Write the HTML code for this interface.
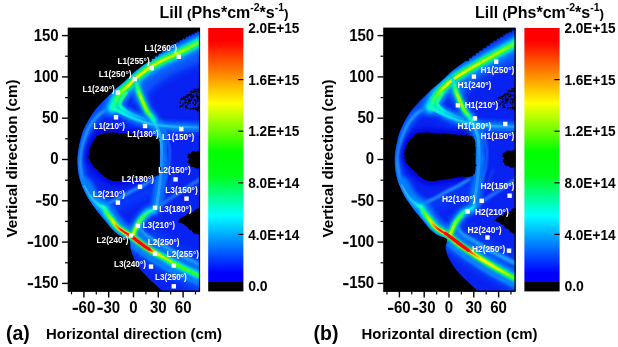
<!DOCTYPE html>
<html><head><meta charset="utf-8"><style>
html,body{margin:0;padding:0;background:#fff;}
body{width:618px;height:347px;overflow:hidden;}
svg{display:block;font-family:"Liberation Sans",sans-serif;filter:blur(0.35px);}
.tk{font-size:15.8px;font-weight:700;fill:#000;}
.ax{font-size:14.5px;font-weight:700;fill:#000;}
.ti{font-size:16px;font-weight:700;fill:#000;}
.cbt{font-size:14px;font-weight:700;fill:#000;}
.ml{font-size:8.2px;font-weight:700;fill:#fff;}
.pl{font-size:19.5px;font-weight:700;fill:#000;}
</style></head><body>
<svg width="618" height="347" viewBox="0 0 618 347">
<defs>
<linearGradient id="cb" x1="0" y1="0" x2="0" y2="1">
<stop offset="0" stop-color="#ff0000"/>
<stop offset="0.05" stop-color="#ff0000"/>
<stop offset="0.285" stop-color="#ffff00"/>
<stop offset="0.47" stop-color="#00ff00"/>
<stop offset="0.56" stop-color="#00ff18"/>
<stop offset="0.713" stop-color="#00ffff"/>
<stop offset="0.93" stop-color="#0000ff"/>
<stop offset="0.966" stop-color="#0000ff"/>
<stop offset="0.966" stop-color="#000000"/>
<stop offset="1" stop-color="#000000"/>
</linearGradient>
<filter id="b0" x="-20%" y="-20%" width="140%" height="140%"><feGaussianBlur stdDeviation="0.45"/></filter>
<filter id="b1" x="-20%" y="-20%" width="140%" height="140%"><feGaussianBlur stdDeviation="0.9"/></filter>
<filter id="b2" x="-20%" y="-20%" width="140%" height="140%"><feGaussianBlur stdDeviation="2"/></filter>
<filter id="b4" x="-30%" y="-30%" width="160%" height="160%"><feGaussianBlur stdDeviation="4"/></filter>
<pattern id="speck" width="3" height="3" patternUnits="userSpaceOnUse"><rect x="0" y="0" width="1.6" height="1.6" fill="#000"/><rect x="1.6" y="1.6" width="1" height="1" fill="#000" opacity="0.6"/></pattern>
<filter id="rough" x="-5%" y="-5%" width="110%" height="110%"><feTurbulence type="fractalNoise" baseFrequency="0.45" numOctaves="2" seed="4" result="n"/><feDisplacementMap in="SourceGraphic" in2="n" scale="2.4" xChannelSelector="R" yChannelSelector="G"/></filter>

<linearGradient id="gL1ha" gradientUnits="userSpaceOnUse" x1="203" y1="40.5" x2="112.7" y2="107.7"><stop offset="0" stop-color="#00ffa0"/><stop offset="0.2" stop-color="#20ff40"/><stop offset="0.85" stop-color="#20ff20"/><stop offset="0.95" stop-color="#00ff90"/><stop offset="1" stop-color="#00f0e0"/></linearGradient>
<linearGradient id="gL1a" gradientUnits="userSpaceOnUse" x1="203" y1="40.5" x2="112.7" y2="107.7"><stop offset="0" stop-color="#40ff40"/><stop offset="0.2" stop-color="#a0ff00"/><stop offset="0.45" stop-color="#d0ff00"/><stop offset="0.78" stop-color="#f0ff00"/><stop offset="0.88" stop-color="#60ff20"/><stop offset="1" stop-color="#00ffc0"/></linearGradient>
<linearGradient id="gAha" gradientUnits="userSpaceOnUse" x1="112.7" y1="107.7" x2="201" y2="127.5"><stop offset="0" stop-color="#00ffc0"/><stop offset="0.12" stop-color="#00d8ff"/><stop offset="0.35" stop-color="#00a8ff" stop-opacity="0.8"/><stop offset="1" stop-color="#0090ff" stop-opacity="0.3"/></linearGradient>
<linearGradient id="gAa" gradientUnits="userSpaceOnUse" x1="112.7" y1="107.7" x2="201" y2="127.5"><stop offset="0" stop-color="#20ffa0"/><stop offset="0.15" stop-color="#00f0e0"/><stop offset="0.4" stop-color="#20c0ff"/><stop offset="1" stop-color="#2890ff"/></linearGradient>
<linearGradient id="gA2ha" gradientUnits="userSpaceOnUse" x1="125.4" y1="92.7" x2="146" y2="119.5"><stop offset="0" stop-color="#00ff80"/><stop offset="0.3" stop-color="#00f0d0"/><stop offset="0.6" stop-color="#00b0ff" stop-opacity="0.8"/><stop offset="1" stop-color="#0090ff" stop-opacity="0.2"/></linearGradient>
<linearGradient id="gA2a" gradientUnits="userSpaceOnUse" x1="125.4" y1="92.7" x2="146" y2="119.5"><stop offset="0" stop-color="#40ff60"/><stop offset="0.3" stop-color="#00ffd0"/><stop offset="0.6" stop-color="#10c8ff"/><stop offset="1" stop-color="#1890ff"/></linearGradient>
<linearGradient id="gBha" gradientUnits="userSpaceOnUse" x1="135.5" y1="80" x2="161.5" y2="160"><stop offset="0" stop-color="#00b0ff"/><stop offset="0.12" stop-color="#00ff80"/><stop offset="0.4" stop-color="#00ff60"/><stop offset="0.52" stop-color="#00d0ff"/><stop offset="0.65" stop-color="#0080ff" stop-opacity="0.5"/><stop offset="1" stop-color="#0080ff" stop-opacity="0"/></linearGradient>
<linearGradient id="gBa" gradientUnits="userSpaceOnUse" x1="135.5" y1="80" x2="161.5" y2="160"><stop offset="0" stop-color="#00e0ff"/><stop offset="0.1" stop-color="#20ff60"/><stop offset="0.22" stop-color="#b0ff00"/><stop offset="0.38" stop-color="#80ff00"/><stop offset="0.5" stop-color="#00ffb0"/><stop offset="0.62" stop-color="#20b8ff"/><stop offset="1" stop-color="#2888ff"/></linearGradient>
<linearGradient id="gL3ha" gradientUnits="userSpaceOnUse" x1="161.5" y1="160" x2="132.3" y2="236.7"><stop offset="0" stop-color="#0080ff" stop-opacity="0"/><stop offset="0.5" stop-color="#0080ff" stop-opacity="0.4"/><stop offset="0.62" stop-color="#00c8ff"/><stop offset="0.75" stop-color="#00ff90"/><stop offset="1" stop-color="#20ff30"/></linearGradient>
<linearGradient id="gL3a" gradientUnits="userSpaceOnUse" x1="161.5" y1="160" x2="132.3" y2="236.7"><stop offset="0" stop-color="#2888ff"/><stop offset="0.5" stop-color="#28a0ff"/><stop offset="0.6" stop-color="#00f0e0"/><stop offset="0.72" stop-color="#30ff50"/><stop offset="0.88" stop-color="#a0ff00"/><stop offset="1" stop-color="#f0ff00"/></linearGradient>
<linearGradient id="gL2wa" gradientUnits="userSpaceOnUse" x1="84.5" y1="186" x2="204" y2="278"><stop offset="0" stop-color="#0080ff" stop-opacity="0"/><stop offset="0.1272" stop-color="#00a0ff" stop-opacity="0.6"/><stop offset="0.2048" stop-color="#00e0ff"/><stop offset="0.2933" stop-color="#00ff80"/><stop offset="0.603" stop-color="#20ff40"/><stop offset="0.7142" stop-color="#00ffa0"/><stop offset="1" stop-color="#00e0ff"/></linearGradient>
<linearGradient id="gL2ha" gradientUnits="userSpaceOnUse" x1="84.5" y1="186" x2="204" y2="278"><stop offset="0" stop-color="#0080ff" stop-opacity="0"/><stop offset="0.1272" stop-color="#00c0ff" stop-opacity="0.6"/><stop offset="0.1868" stop-color="#00ffc0"/><stop offset="0.2408" stop-color="#20ff40"/><stop offset="0.314" stop-color="#a0ff00"/><stop offset="0.3677" stop-color="#ffd800"/><stop offset="0.5937" stop-color="#ffc800"/><stop offset="0.6402" stop-color="#c0ff00"/><stop offset="0.6996" stop-color="#30ff20"/><stop offset="1" stop-color="#00ff60"/></linearGradient>
<linearGradient id="gL2a" gradientUnits="userSpaceOnUse" x1="84.5" y1="186" x2="204" y2="278"><stop offset="0" stop-color="#30a0ff"/><stop offset="0.1272" stop-color="#20c0ff"/><stop offset="0.1868" stop-color="#20ffc0"/><stop offset="0.2259" stop-color="#40ff30"/><stop offset="0.2614" stop-color="#a0ff00"/><stop offset="0.298" stop-color="#f8f000"/><stop offset="0.3372" stop-color="#ff8000"/><stop offset="0.3724" stop-color="#ff1000"/><stop offset="0.5937" stop-color="#ff0000"/><stop offset="0.6295" stop-color="#ff8000"/><stop offset="0.6705" stop-color="#fff000"/><stop offset="0.738" stop-color="#b0ff00"/><stop offset="0.8201" stop-color="#50ff10"/><stop offset="1" stop-color="#20ff40"/></linearGradient>
<linearGradient id="gL1hb" gradientUnits="userSpaceOnUse" x1="519" y1="41.4" x2="430.5" y2="107"><stop offset="0" stop-color="#00ffa0"/><stop offset="0.2" stop-color="#20ff40"/><stop offset="0.85" stop-color="#20ff20"/><stop offset="0.95" stop-color="#00ff90"/><stop offset="1" stop-color="#00f0e0"/></linearGradient>
<linearGradient id="gL1b" gradientUnits="userSpaceOnUse" x1="519" y1="41.4" x2="430.5" y2="107"><stop offset="0" stop-color="#40ff40"/><stop offset="0.2" stop-color="#a0ff00"/><stop offset="0.45" stop-color="#d0ff00"/><stop offset="0.78" stop-color="#f0ff00"/><stop offset="0.88" stop-color="#60ff20"/><stop offset="1" stop-color="#00ffc0"/></linearGradient>
<linearGradient id="gAhb" gradientUnits="userSpaceOnUse" x1="430.0" y1="107.0" x2="518.3" y2="126.8"><stop offset="0" stop-color="#00ffc0"/><stop offset="0.12" stop-color="#00d8ff"/><stop offset="0.35" stop-color="#00a8ff" stop-opacity="0.8"/><stop offset="1" stop-color="#0090ff" stop-opacity="0.3"/></linearGradient>
<linearGradient id="gAb" gradientUnits="userSpaceOnUse" x1="430.0" y1="107.0" x2="518.3" y2="126.8"><stop offset="0" stop-color="#20ffa0"/><stop offset="0.15" stop-color="#00f0e0"/><stop offset="0.4" stop-color="#20c0ff"/><stop offset="1" stop-color="#2890ff"/></linearGradient>
<linearGradient id="gA2hb" gradientUnits="userSpaceOnUse" x1="442.70000000000005" y1="92.0" x2="463.3" y2="118.8"><stop offset="0" stop-color="#00ff80"/><stop offset="0.3" stop-color="#00f0d0"/><stop offset="0.6" stop-color="#00b0ff" stop-opacity="0.8"/><stop offset="1" stop-color="#0090ff" stop-opacity="0.2"/></linearGradient>
<linearGradient id="gA2b" gradientUnits="userSpaceOnUse" x1="442.70000000000005" y1="92.0" x2="463.3" y2="118.8"><stop offset="0" stop-color="#40ff60"/><stop offset="0.3" stop-color="#00ffd0"/><stop offset="0.6" stop-color="#10c8ff"/><stop offset="1" stop-color="#1890ff"/></linearGradient>
<linearGradient id="gBhb" gradientUnits="userSpaceOnUse" x1="452.8" y1="79.3" x2="478.8" y2="159.3"><stop offset="0" stop-color="#00b0ff"/><stop offset="0.12" stop-color="#00ff80"/><stop offset="0.4" stop-color="#00ff60"/><stop offset="0.52" stop-color="#00d0ff"/><stop offset="0.65" stop-color="#0080ff" stop-opacity="0.5"/><stop offset="1" stop-color="#0080ff" stop-opacity="0"/></linearGradient>
<linearGradient id="gBb" gradientUnits="userSpaceOnUse" x1="452.8" y1="79.3" x2="478.8" y2="159.3"><stop offset="0" stop-color="#00e0ff"/><stop offset="0.1" stop-color="#20ff60"/><stop offset="0.22" stop-color="#b0ff00"/><stop offset="0.38" stop-color="#80ff00"/><stop offset="0.5" stop-color="#00ffb0"/><stop offset="0.62" stop-color="#20b8ff"/><stop offset="1" stop-color="#2888ff"/></linearGradient>
<linearGradient id="gL3hb" gradientUnits="userSpaceOnUse" x1="478.8" y1="159.3" x2="449.6" y2="236.0"><stop offset="0" stop-color="#0080ff" stop-opacity="0"/><stop offset="0.5" stop-color="#0080ff" stop-opacity="0.4"/><stop offset="0.62" stop-color="#00c8ff"/><stop offset="0.75" stop-color="#00ff90"/><stop offset="1" stop-color="#20ff30"/></linearGradient>
<linearGradient id="gL3b" gradientUnits="userSpaceOnUse" x1="478.8" y1="159.3" x2="449.6" y2="236.0"><stop offset="0" stop-color="#2888ff"/><stop offset="0.5" stop-color="#28a0ff"/><stop offset="0.6" stop-color="#00f0e0"/><stop offset="0.72" stop-color="#30ff50"/><stop offset="0.88" stop-color="#a0ff00"/><stop offset="1" stop-color="#f0ff00"/></linearGradient>
<linearGradient id="gL2wb" gradientUnits="userSpaceOnUse" x1="401.8" y1="185.3" x2="520" y2="281.2"><stop offset="0" stop-color="#0080ff" stop-opacity="0"/><stop offset="0.127" stop-color="#00a0ff" stop-opacity="0.6"/><stop offset="0.2039" stop-color="#00e0ff"/><stop offset="0.2923" stop-color="#00ff80"/><stop offset="0.6999" stop-color="#20ff40"/><stop offset="0.8516" stop-color="#00ff80"/><stop offset="1" stop-color="#00f0c0"/></linearGradient>
<linearGradient id="gL2hb" gradientUnits="userSpaceOnUse" x1="401.8" y1="185.3" x2="520" y2="281.2"><stop offset="0" stop-color="#0080ff" stop-opacity="0"/><stop offset="0.127" stop-color="#00c0ff" stop-opacity="0.6"/><stop offset="0.1859" stop-color="#00ffc0"/><stop offset="0.2399" stop-color="#20ff40"/><stop offset="0.3129" stop-color="#a0ff00"/><stop offset="0.3663" stop-color="#ffd800"/><stop offset="0.5984" stop-color="#ffc800"/><stop offset="0.6691" stop-color="#d0ff00"/><stop offset="0.8149" stop-color="#60ff10"/><stop offset="1" stop-color="#00ff40"/></linearGradient>
<linearGradient id="gL2b" gradientUnits="userSpaceOnUse" x1="401.8" y1="185.3" x2="520" y2="281.2"><stop offset="0" stop-color="#30a0ff"/><stop offset="0.127" stop-color="#20c0ff"/><stop offset="0.1859" stop-color="#20ffc0"/><stop offset="0.225" stop-color="#40ff30"/><stop offset="0.2605" stop-color="#a0ff00"/><stop offset="0.297" stop-color="#f8f000"/><stop offset="0.336" stop-color="#ff8000"/><stop offset="0.3709" stop-color="#ff1000"/><stop offset="0.5984" stop-color="#ff0000"/><stop offset="0.654" stop-color="#ff8000"/><stop offset="0.7083" stop-color="#fff000"/><stop offset="0.8524" stop-color="#e0ff00"/><stop offset="0.9262" stop-color="#80ff00"/><stop offset="1" stop-color="#40ff20"/></linearGradient>
</defs>
<rect width="618" height="347" fill="#fff"/>
<!-- panel a -->
<g>
<clipPath id="clipa"><rect x="68" y="27.6" width="132" height="264"/></clipPath>
<rect x="67.7" y="27.6" width="132.3" height="264" fill="#000"/>
<g clip-path="url(#clipa)">
<clipPath id="rega"><path d="M201.0,29.5C199.3,30.3 194.3,32.6 190.6,34.5C186.8,36.4 182.9,38.4 178.5,41.0C174.1,43.6 169.1,46.8 164.4,50.0C159.7,53.2 155.0,56.7 150.3,60.2C145.6,63.7 140.5,67.2 136.2,70.8C131.9,74.4 128.0,78.6 124.4,81.8C120.8,85.0 117.6,87.3 114.7,90.0C111.8,92.7 109.5,95.2 106.9,97.8C104.3,100.4 101.5,102.9 99.1,105.6C96.6,108.3 94.3,111.0 92.2,114.2C90.1,117.4 87.9,121.1 86.2,124.6C84.5,128.1 83.0,131.1 81.8,135.0C80.6,138.9 79.5,144.0 78.8,148.0C78.1,152.0 77.6,155.0 77.5,159.0C77.4,163.0 77.8,168.3 78.3,172.0C78.8,175.7 79.7,178.4 80.5,181.0C81.3,183.6 82.0,185.4 83.0,187.7C84.0,190.0 85.2,192.6 86.5,195.0C87.8,197.4 88.8,199.0 90.8,202.0C92.8,205.0 96.1,209.6 98.8,213.0C101.5,216.4 104.3,219.7 106.7,222.5C109.1,225.3 110.6,227.8 113.0,230.0C115.4,232.2 118.2,234.4 121.0,236.0C123.8,237.6 128.0,237.5 129.7,239.8C131.4,242.1 129.9,246.1 131.0,250.0C132.1,253.9 134.0,259.1 136.2,263.0C138.4,266.9 140.9,270.0 144.0,273.5C147.1,277.0 151.3,280.9 154.6,284.0C157.8,287.1 162.0,290.7 163.5,292.0L205,296L205,23Z"/></clipPath>
<path d="M201.0,29.5C199.3,30.3 194.3,32.6 190.6,34.5C186.8,36.4 182.9,38.4 178.5,41.0C174.1,43.6 169.1,46.8 164.4,50.0C159.7,53.2 155.0,56.7 150.3,60.2C145.6,63.7 140.5,67.2 136.2,70.8C131.9,74.4 128.0,78.6 124.4,81.8C120.8,85.0 117.6,87.3 114.7,90.0C111.8,92.7 109.5,95.2 106.9,97.8C104.3,100.4 101.5,102.9 99.1,105.6C96.6,108.3 94.3,111.0 92.2,114.2C90.1,117.4 87.9,121.1 86.2,124.6C84.5,128.1 83.0,131.1 81.8,135.0C80.6,138.9 79.5,144.0 78.8,148.0C78.1,152.0 77.6,155.0 77.5,159.0C77.4,163.0 77.8,168.3 78.3,172.0C78.8,175.7 79.7,178.4 80.5,181.0C81.3,183.6 82.0,185.4 83.0,187.7C84.0,190.0 85.2,192.6 86.5,195.0C87.8,197.4 88.8,199.0 90.8,202.0C92.8,205.0 96.1,209.6 98.8,213.0C101.5,216.4 104.3,219.7 106.7,222.5C109.1,225.3 110.6,227.8 113.0,230.0C115.4,232.2 118.2,234.4 121.0,236.0C123.8,237.6 128.0,237.5 129.7,239.8C131.4,242.1 129.9,246.1 131.0,250.0C132.1,253.9 134.0,259.1 136.2,263.0C138.4,266.9 140.9,270.0 144.0,273.5C147.1,277.0 151.3,280.9 154.6,284.0C157.8,287.1 162.0,290.7 163.5,292.0L205,296L205,23Z" fill="#0822f2"/>
<g clip-path="url(#rega)">
<path d="M202.0,55.0C197.5,56.8 183.3,61.8 175.0,66.0C166.7,70.2 158.2,75.0 152.0,80.0C145.8,85.0 140.3,93.3 138.0,96.0" fill="none" stroke="#0868ff" stroke-width="13" stroke-linecap="round" stroke-linejoin="round" opacity="0.85" filter="url(#b4)"/>
<path d="M125.0,120.0C129.2,121.2 137.5,125.0 150.0,127.0C162.5,129.0 191.7,131.2 200.0,132.0" fill="none" stroke="#0048ff" stroke-width="8" stroke-linecap="round" stroke-linejoin="round" opacity="0.6" filter="url(#b4)"/>
<path d="M110.0,208.0C113.3,206.7 123.3,203.0 130.0,200.0C136.7,197.0 146.7,191.7 150.0,190.0" fill="none" stroke="#0050ff" stroke-width="10" stroke-linecap="round" stroke-linejoin="round" opacity="0.6" filter="url(#b4)"/>
<path d="M150.0,232.0C153.3,234.3 161.7,241.0 170.0,246.0C178.3,251.0 195.0,259.3 200.0,262.0" fill="none" stroke="#0058ff" stroke-width="10" stroke-linecap="round" stroke-linejoin="round" opacity="0.6" filter="url(#b4)"/>
<path d="M138.0,250.0C141.3,252.2 150.7,258.5 158.0,263.0C165.3,267.5 174.7,272.8 182.0,277.0C189.3,281.2 198.7,286.2 202.0,288.0" fill="none" stroke="#0060ff" stroke-width="11" stroke-linecap="round" stroke-linejoin="round" opacity="0.8" filter="url(#b4)"/>
<path d="M136.2,70.8C134.2,72.6 128.0,78.6 124.4,81.8C120.8,85.0 117.6,87.3 114.7,90.0C111.8,92.7 109.5,95.2 106.9,97.8C104.3,100.4 101.5,102.9 99.1,105.6C96.6,108.3 94.3,111.0 92.2,114.2C90.1,117.4 87.9,121.1 86.2,124.6C84.5,128.1 83.0,131.1 81.8,135.0C80.6,138.9 79.5,144.0 78.8,148.0C78.1,152.0 77.6,155.0 77.5,159.0C77.4,163.0 77.8,168.3 78.3,172.0C78.8,175.7 79.7,178.4 80.5,181.0C81.3,183.6 82.0,185.4 83.0,187.7C84.0,190.0 85.2,192.6 86.5,195.0C87.8,197.4 88.8,199.0 90.8,202.0C92.8,205.0 96.1,209.6 98.8,213.0C101.5,216.4 104.3,219.7 106.7,222.5C109.1,225.3 110.6,227.8 113.0,230.0C115.4,232.2 118.2,234.4 121.0,236.0C123.8,237.6 128.0,237.5 129.7,239.8C131.4,242.1 130.8,248.3 131.0,250.0" fill="none" stroke="#0048ff" stroke-width="8" stroke-linecap="round" stroke-linejoin="round" opacity="0.8" filter="url(#b2)"/>
<path d="M112.7,107.7C111.7,108.0 108.5,108.9 106.5,109.8C104.5,110.7 103.0,111.3 100.9,113.0C98.8,114.7 96.2,117.2 94.0,120.0C91.8,122.8 89.6,126.3 87.9,130.0C86.2,133.7 84.8,137.8 83.6,142.0C82.4,146.2 81.3,151.2 80.8,155.0C80.2,158.8 80.1,161.5 80.3,165.0C80.5,168.5 81.1,172.5 81.8,176.0C82.5,179.5 83.0,182.5 84.5,186.0C86.0,189.5 88.4,193.8 90.8,197.0C93.2,200.2 96.7,203.2 98.8,205.0C100.9,206.8 102.7,207.1 103.5,207.5" fill="none" stroke="#0060ff" stroke-width="9" stroke-linecap="round" stroke-linejoin="round" opacity="0.9" filter="url(#b2)"/>
<path d="M112.7,107.7C111.7,108.0 108.5,108.9 106.5,109.8C104.5,110.7 103.0,111.3 100.9,113.0C98.8,114.7 96.2,117.2 94.0,120.0C91.8,122.8 89.6,126.3 87.9,130.0C86.2,133.7 84.8,137.8 83.6,142.0C82.4,146.2 81.3,151.2 80.8,155.0C80.2,158.8 80.1,161.5 80.3,165.0C80.5,168.5 81.1,172.5 81.8,176.0C82.5,179.5 83.0,182.5 84.5,186.0C86.0,189.5 88.4,193.8 90.8,197.0C93.2,200.2 96.7,203.2 98.8,205.0C100.9,206.8 102.7,207.1 103.5,207.5" fill="none" stroke="#30a0ff" stroke-width="2.6" stroke-linecap="round" stroke-linejoin="round" opacity="0.95" filter="url(#b1)"/>
<path d="M88.6,157.0C88.5,155.3 88.9,151.8 89.3,150.0C89.7,148.2 89.8,147.9 90.7,146.0C91.7,144.1 93.4,140.4 95.0,138.4C96.6,136.4 98.3,135.2 100.5,134.2C102.7,133.2 104.4,132.7 108.0,132.5C111.6,132.3 116.8,132.9 122.0,133.2C127.2,133.5 134.0,134.0 139.4,134.5C144.8,135.0 151.4,135.3 154.6,136.0C157.8,136.7 157.6,136.8 158.5,138.5C159.4,140.2 159.8,141.9 160.0,146.0C160.2,150.1 160.1,158.8 160.0,163.3C159.9,167.8 159.9,170.9 159.3,173.0C158.7,175.1 158.4,175.3 156.5,176.0C154.6,176.7 150.8,176.9 148.0,177.2C145.2,177.5 142.4,177.6 139.4,178.0C136.4,178.4 132.9,179.0 130.0,179.4C127.1,179.8 124.6,180.3 122.0,180.6C119.4,180.9 117.0,181.6 114.5,181.2C112.0,180.8 109.3,179.8 107.0,178.4C104.7,177.0 102.8,175.2 100.5,173.0C98.2,170.8 94.8,167.7 93.0,165.5C91.2,163.3 90.3,161.4 89.6,160.0C88.9,158.6 88.6,158.7 88.6,157.0Z" fill="none" stroke="#0000d8" stroke-width="9" stroke-linecap="round" stroke-linejoin="round" opacity="0.75" filter="url(#b2)"/>
<path d="M103.5,207.5C104.3,206.8 106.0,204.9 108.3,203.5C110.6,202.1 113.9,200.9 117.5,199.0C121.1,197.1 126.2,194.0 130.0,192.0C133.8,190.0 136.3,189.0 140.0,187.0C143.7,185.0 150.0,181.2 152.0,180.0" fill="none" stroke="#2898ff" stroke-width="3.2" stroke-linecap="round" stroke-linejoin="round" opacity="0.9" filter="url(#b1)"/>
<path d="M111.5,212.0C112.3,213.5 114.5,218.5 116.2,221.0C118.0,223.5 121.0,226.0 122.0,227.0" fill="none" stroke="#10d0ff" stroke-width="1.8" stroke-linecap="round" stroke-linejoin="round" opacity="0.9" filter="url(#b1)"/>
<path d="M138.0,224.0C139.0,225.7 140.8,231.0 144.0,234.0C147.2,237.0 151.7,238.8 157.0,242.0C162.3,245.2 168.3,249.1 175.6,253.0C182.9,256.9 196.8,263.4 201.0,265.5" fill="none" stroke="#20a0ff" stroke-width="4.5" stroke-linecap="round" stroke-linejoin="round" opacity="1" filter="url(#b1)"/>
<path d="M133.0,246.0C135.8,248.0 143.5,253.8 150.0,258.0C156.5,262.2 163.5,266.7 172.0,271.0C180.5,275.3 196.2,281.8 201.0,284.0" fill="none" stroke="#1888ff" stroke-width="4.5" stroke-linecap="round" stroke-linejoin="round" opacity="0.85" filter="url(#b1)"/>
<path d="M176.0,170.0C175.0,172.5 172.2,180.3 170.0,185.0C167.8,189.7 165.3,194.2 163.0,198.0C160.7,201.8 157.2,206.2 156.0,207.9" fill="none" stroke="#30a0ff" stroke-width="2.0" stroke-linecap="round" stroke-linejoin="round" opacity="0.25" filter="url(#b1)"/>
<path d="M201.0,178.5C198.3,180.2 190.5,185.4 185.0,189.0C179.5,192.6 172.8,196.8 168.0,200.0C163.2,203.2 158.0,206.6 156.0,207.9" fill="none" stroke="#2478ff" stroke-width="4" stroke-linecap="round" stroke-linejoin="round" opacity="0.85" filter="url(#b1)"/>
<path d="M160.0,136.0C162.5,135.3 168.2,132.8 175.0,132.0C181.8,131.2 196.7,131.2 201.0,131.0" fill="none" stroke="#2080ff" stroke-width="1.6" stroke-linecap="round" stroke-linejoin="round" opacity="0.5" filter="url(#b1)"/>
<path d="M161.0,122.0C161.8,124.0 164.6,129.3 166.0,134.0C167.4,138.7 169.1,144.3 169.5,150.0C169.9,155.7 169.6,162.0 168.5,168.0C167.4,174.0 163.9,183.0 163.0,186.0" fill="none" stroke="#2488ff" stroke-width="2.2" stroke-linecap="round" stroke-linejoin="round" opacity="0.75" filter="url(#b1)"/>
<path d="M203.0,40.5C202.5,40.8 204.0,40.0 200.0,42.0C196.0,44.0 186.8,48.8 178.8,52.8C170.8,56.8 159.1,61.8 151.8,66.2C144.5,70.6 138.8,76.0 134.9,79.2C131.0,82.4 130.7,83.5 128.5,85.5C126.3,87.5 123.8,89.0 122.0,91.0C120.2,93.0 118.7,95.3 117.4,97.4C116.1,99.5 115.1,102.1 114.3,103.8C113.5,105.5 113.0,107.0 112.7,107.7" fill="none" stroke="#0080ff" stroke-width="18" stroke-linecap="round" stroke-linejoin="round" opacity="0.95" filter="url(#b2)"/>
<path d="M112.7,107.7C114.0,108.4 117.4,110.1 120.6,111.7C123.8,113.3 127.7,115.5 131.7,117.2C135.7,118.9 140.7,120.8 144.4,122.0C148.1,123.2 149.6,123.7 153.9,124.4C158.2,125.2 162.2,126.0 170.0,126.5C177.8,127.0 195.8,127.3 201.0,127.5" fill="none" stroke="#0080ff" stroke-width="9" stroke-linecap="round" stroke-linejoin="round" opacity="0.95" filter="url(#b2)"/>
<path d="M125.4,92.7C124.6,94.0 121.5,98.5 120.6,100.6C119.7,102.7 119.0,103.7 119.8,105.4C120.6,107.1 122.9,109.3 125.4,111.0C127.9,112.7 131.5,114.3 134.9,115.7C138.3,117.1 144.2,118.9 146.0,119.5" fill="none" stroke="#0080ff" stroke-width="8" stroke-linecap="round" stroke-linejoin="round" opacity="0.95" filter="url(#b2)"/>
<path d="M135.5,80.0C135.8,81.0 136.5,83.9 137.2,86.3C137.9,88.7 138.5,91.4 139.6,94.3C140.7,97.2 142.3,100.9 143.6,103.8C144.9,106.7 146.1,109.3 147.5,111.7C148.9,114.1 150.7,115.4 152.3,118.0C153.9,120.6 155.6,124.3 157.0,127.5C158.4,130.7 159.8,133.2 160.5,137.0C161.2,140.8 161.3,146.2 161.5,150.0C161.7,153.8 161.5,158.3 161.5,160.0" fill="none" stroke="#0080ff" stroke-width="11" stroke-linecap="round" stroke-linejoin="round" opacity="0.95" filter="url(#b2)"/>
<path d="M161.5,160.0C161.4,162.0 161.3,167.7 161.0,172.0C160.7,176.3 160.1,181.3 159.5,186.0C158.9,190.7 158.1,196.3 157.5,200.0C156.9,203.7 157.8,205.7 156.0,207.9C154.2,210.1 149.5,210.6 146.7,213.0C143.8,215.4 140.8,219.5 138.9,222.3C137.0,225.1 136.1,227.6 135.0,230.0C133.9,232.4 132.8,235.6 132.3,236.7" fill="none" stroke="#0080ff" stroke-width="11" stroke-linecap="round" stroke-linejoin="round" opacity="0.95" filter="url(#b2)"/>
<path d="M84.5,186.0C85.5,187.8 88.4,193.8 90.8,197.0C93.2,200.2 96.7,203.2 98.8,205.0C100.9,206.8 102.2,206.2 103.5,207.5C104.8,208.8 105.4,211.0 106.7,213.0C108.0,215.0 109.7,217.1 111.5,219.4C113.3,221.7 115.2,224.7 117.3,226.8C119.4,228.9 121.7,230.3 124.0,231.8C126.3,233.3 128.4,234.2 131.0,236.0C133.6,237.8 137.0,240.6 139.7,242.6C142.3,244.6 144.4,246.1 146.9,247.8C149.4,249.5 152.6,251.4 154.8,252.7C157.0,254.0 158.0,254.3 160.0,255.4C162.0,256.5 164.7,258.1 167.0,259.4C169.3,260.7 170.6,261.5 173.9,263.3C177.2,265.1 182.7,267.9 187.0,270.0C191.3,272.1 197.2,274.7 200.0,276.0C202.8,277.3 203.3,277.7 204.0,278.0" fill="none" stroke="#0080ff" stroke-width="17" stroke-linecap="round" stroke-linejoin="round" opacity="0.95" filter="url(#b2)"/>
<path d="M203.0,40.5C202.5,40.8 204.0,40.0 200.0,42.0C196.0,44.0 186.8,48.8 178.8,52.8C170.8,56.8 159.1,61.8 151.8,66.2C144.5,70.6 138.8,76.0 134.9,79.2C131.0,82.4 130.7,83.5 128.5,85.5C126.3,87.5 123.8,89.0 122.0,91.0C120.2,93.0 118.7,95.3 117.4,97.4C116.1,99.5 115.1,102.1 114.3,103.8C113.5,105.5 113.0,107.0 112.7,107.7" fill="none" stroke="#00c0ff" stroke-width="11" stroke-linecap="round" stroke-linejoin="round" opacity="1" filter="url(#b1)"/>
<path d="M84.5,186.0C85.5,187.8 88.4,193.8 90.8,197.0C93.2,200.2 96.7,203.2 98.8,205.0C100.9,206.8 102.2,206.2 103.5,207.5C104.8,208.8 105.4,211.0 106.7,213.0C108.0,215.0 109.7,217.1 111.5,219.4C113.3,221.7 115.2,224.7 117.3,226.8C119.4,228.9 121.7,230.3 124.0,231.8C126.3,233.3 128.4,234.2 131.0,236.0C133.6,237.8 137.0,240.6 139.7,242.6C142.3,244.6 144.4,246.1 146.9,247.8C149.4,249.5 152.6,251.4 154.8,252.7C157.0,254.0 158.0,254.3 160.0,255.4C162.0,256.5 164.7,258.1 167.0,259.4C169.3,260.7 170.6,261.5 173.9,263.3C177.2,265.1 182.7,267.9 187.0,270.0C191.3,272.1 197.2,274.7 200.0,276.0C202.8,277.3 203.3,277.7 204.0,278.0" fill="none" stroke="url(#gL2wa)" stroke-width="7.2" stroke-linecap="round" stroke-linejoin="round" opacity="1" filter="url(#b1)"/>
<path d="M203.0,40.5C202.5,40.8 204.0,40.0 200.0,42.0C196.0,44.0 186.8,48.8 178.8,52.8C170.8,56.8 159.1,61.8 151.8,66.2C144.5,70.6 138.8,76.0 134.9,79.2C131.0,82.4 130.7,83.5 128.5,85.5C126.3,87.5 123.8,89.0 122.0,91.0C120.2,93.0 118.7,95.3 117.4,97.4C116.1,99.5 115.1,102.1 114.3,103.8C113.5,105.5 113.0,107.0 112.7,107.7" fill="none" stroke="url(#gL1ha)" stroke-width="7" stroke-linecap="round" stroke-linejoin="round" opacity="1" filter="url(#b1)"/>
<path d="M112.7,107.7C114.0,108.4 117.4,110.1 120.6,111.7C123.8,113.3 127.7,115.5 131.7,117.2C135.7,118.9 140.7,120.8 144.4,122.0C148.1,123.2 149.6,123.7 153.9,124.4C158.2,125.2 162.2,126.0 170.0,126.5C177.8,127.0 195.8,127.3 201.0,127.5" fill="none" stroke="url(#gAha)" stroke-width="4.5" stroke-linecap="round" stroke-linejoin="round" opacity="1" filter="url(#b0)"/>
<path d="M125.4,92.7C124.6,94.0 121.5,98.5 120.6,100.6C119.7,102.7 119.0,103.7 119.8,105.4C120.6,107.1 122.9,109.3 125.4,111.0C127.9,112.7 131.5,114.3 134.9,115.7C138.3,117.1 144.2,118.9 146.0,119.5" fill="none" stroke="url(#gA2ha)" stroke-width="4.5" stroke-linecap="round" stroke-linejoin="round" opacity="1" filter="url(#b0)"/>
<path d="M135.5,80.0C135.8,81.0 136.5,83.9 137.2,86.3C137.9,88.7 138.5,91.4 139.6,94.3C140.7,97.2 142.3,100.9 143.6,103.8C144.9,106.7 146.1,109.3 147.5,111.7C148.9,114.1 150.7,115.4 152.3,118.0C153.9,120.6 155.6,124.3 157.0,127.5C158.4,130.7 159.8,133.2 160.5,137.0C161.2,140.8 161.3,146.2 161.5,150.0C161.7,153.8 161.5,158.3 161.5,160.0" fill="none" stroke="url(#gBha)" stroke-width="6" stroke-linecap="round" stroke-linejoin="round" opacity="1" filter="url(#b1)"/>
<path d="M161.5,160.0C161.4,162.0 161.3,167.7 161.0,172.0C160.7,176.3 160.1,181.3 159.5,186.0C158.9,190.7 158.1,196.3 157.5,200.0C156.9,203.7 157.8,205.7 156.0,207.9C154.2,210.1 149.5,210.6 146.7,213.0C143.8,215.4 140.8,219.5 138.9,222.3C137.0,225.1 136.1,227.6 135.0,230.0C133.9,232.4 132.8,235.6 132.3,236.7" fill="none" stroke="url(#gL3ha)" stroke-width="6" stroke-linecap="round" stroke-linejoin="round" opacity="1" filter="url(#b1)"/>
<path d="M84.5,186.0C85.5,187.8 88.4,193.8 90.8,197.0C93.2,200.2 96.7,203.2 98.8,205.0C100.9,206.8 102.2,206.2 103.5,207.5C104.8,208.8 105.4,211.0 106.7,213.0C108.0,215.0 109.7,217.1 111.5,219.4C113.3,221.7 115.2,224.7 117.3,226.8C119.4,228.9 121.7,230.3 124.0,231.8C126.3,233.3 128.4,234.2 131.0,236.0C133.6,237.8 137.0,240.6 139.7,242.6C142.3,244.6 144.4,246.1 146.9,247.8C149.4,249.5 152.6,251.4 154.8,252.7C157.0,254.0 158.0,254.3 160.0,255.4C162.0,256.5 164.7,258.1 167.0,259.4C169.3,260.7 170.6,261.5 173.9,263.3C177.2,265.1 182.7,267.9 187.0,270.0C191.3,272.1 197.2,274.7 200.0,276.0C202.8,277.3 203.3,277.7 204.0,278.0" fill="none" stroke="url(#gL2ha)" stroke-width="3.9" stroke-linecap="round" stroke-linejoin="round" opacity="1" filter="url(#b0)"/>
<path d="M203.0,40.5C202.5,40.8 204.0,40.0 200.0,42.0C196.0,44.0 186.8,48.8 178.8,52.8C170.8,56.8 159.1,61.8 151.8,66.2C144.5,70.6 138.8,76.0 134.9,79.2C131.0,82.4 130.7,83.5 128.5,85.5C126.3,87.5 123.8,89.0 122.0,91.0C120.2,93.0 118.7,95.3 117.4,97.4C116.1,99.5 115.1,102.1 114.3,103.8C113.5,105.5 113.0,107.0 112.7,107.7" fill="none" stroke="url(#gL1a)" stroke-width="2.8" stroke-linecap="round" stroke-linejoin="round" opacity="1" filter="url(#b0)"/>
<path d="M112.7,107.7C114.0,108.4 117.4,110.1 120.6,111.7C123.8,113.3 127.7,115.5 131.7,117.2C135.7,118.9 140.7,120.8 144.4,122.0C148.1,123.2 149.6,123.7 153.9,124.4C158.2,125.2 162.2,126.0 170.0,126.5C177.8,127.0 195.8,127.3 201.0,127.5" fill="none" stroke="url(#gAa)" stroke-width="2.2" stroke-linecap="round" stroke-linejoin="round" opacity="1" filter="url(#b0)"/>
<path d="M125.4,92.7C124.6,94.0 121.5,98.5 120.6,100.6C119.7,102.7 119.0,103.7 119.8,105.4C120.6,107.1 122.9,109.3 125.4,111.0C127.9,112.7 131.5,114.3 134.9,115.7C138.3,117.1 144.2,118.9 146.0,119.5" fill="none" stroke="url(#gA2a)" stroke-width="1.8" stroke-linecap="round" stroke-linejoin="round" opacity="1" filter="url(#b0)"/>
<path d="M135.5,80.0C135.8,81.0 136.5,83.9 137.2,86.3C137.9,88.7 138.5,91.4 139.6,94.3C140.7,97.2 142.3,100.9 143.6,103.8C144.9,106.7 146.1,109.3 147.5,111.7C148.9,114.1 150.7,115.4 152.3,118.0C153.9,120.6 155.6,124.3 157.0,127.5C158.4,130.7 159.8,133.2 160.5,137.0C161.2,140.8 161.3,146.2 161.5,150.0C161.7,153.8 161.5,158.3 161.5,160.0" fill="none" stroke="url(#gBa)" stroke-width="3" stroke-linecap="round" stroke-linejoin="round" opacity="1" filter="url(#b0)"/>
<path d="M161.5,160.0C161.4,162.0 161.3,167.7 161.0,172.0C160.7,176.3 160.1,181.3 159.5,186.0C158.9,190.7 158.1,196.3 157.5,200.0C156.9,203.7 157.8,205.7 156.0,207.9C154.2,210.1 149.5,210.6 146.7,213.0C143.8,215.4 140.8,219.5 138.9,222.3C137.0,225.1 136.1,227.6 135.0,230.0C133.9,232.4 132.8,235.6 132.3,236.7" fill="none" stroke="url(#gL3a)" stroke-width="2.8" stroke-linecap="round" stroke-linejoin="round" opacity="1" filter="url(#b0)"/>
<path d="M84.5,186.0C85.5,187.8 88.4,193.8 90.8,197.0C93.2,200.2 96.7,203.2 98.8,205.0C100.9,206.8 102.2,206.2 103.5,207.5C104.8,208.8 105.4,211.0 106.7,213.0C108.0,215.0 109.7,217.1 111.5,219.4C113.3,221.7 115.2,224.7 117.3,226.8C119.4,228.9 121.7,230.3 124.0,231.8C126.3,233.3 128.4,234.2 131.0,236.0C133.6,237.8 137.0,240.6 139.7,242.6C142.3,244.6 144.4,246.1 146.9,247.8C149.4,249.5 152.6,251.4 154.8,252.7C157.0,254.0 158.0,254.3 160.0,255.4C162.0,256.5 164.7,258.1 167.0,259.4C169.3,260.7 170.6,261.5 173.9,263.3C177.2,265.1 182.7,267.9 187.0,270.0C191.3,272.1 197.2,274.7 200.0,276.0C202.8,277.3 203.3,277.7 204.0,278.0" fill="none" stroke="url(#gL2a)" stroke-width="2.1" stroke-linecap="round" stroke-linejoin="round" opacity="1" filter="url(#b0)"/>
<path d="M129.0,234.6C129.3,234.8 129.2,234.7 131.0,236.0C132.8,237.3 137.0,240.6 139.7,242.6C142.3,244.6 145.3,246.7 146.9,247.8C148.5,248.9 148.7,248.9 149.0,249.1" fill="none" stroke="#ff0000" stroke-width="3.4" stroke-linecap="round" stroke-linejoin="round" opacity="0.95" filter="url(#b0)"/>
</g>
<path d="M88.6,157.0C88.5,155.3 88.9,151.8 89.3,150.0C89.7,148.2 89.8,147.9 90.7,146.0C91.7,144.1 93.4,140.4 95.0,138.4C96.6,136.4 98.3,135.2 100.5,134.2C102.7,133.2 104.4,132.7 108.0,132.5C111.6,132.3 116.8,132.9 122.0,133.2C127.2,133.5 134.0,134.0 139.4,134.5C144.8,135.0 151.4,135.3 154.6,136.0C157.8,136.7 157.6,136.8 158.5,138.5C159.4,140.2 159.8,141.9 160.0,146.0C160.2,150.1 160.1,158.8 160.0,163.3C159.9,167.8 159.9,170.9 159.3,173.0C158.7,175.1 158.4,175.3 156.5,176.0C154.6,176.7 150.8,176.9 148.0,177.2C145.2,177.5 142.4,177.6 139.4,178.0C136.4,178.4 132.9,179.0 130.0,179.4C127.1,179.8 124.6,180.3 122.0,180.6C119.4,180.9 117.0,181.6 114.5,181.2C112.0,180.8 109.3,179.8 107.0,178.4C104.7,177.0 102.8,175.2 100.5,173.0C98.2,170.8 94.8,167.7 93.0,165.5C91.2,163.3 90.3,161.4 89.6,160.0C88.9,158.6 88.6,158.7 88.6,157.0Z" fill="#000" filter="url(#rough)"/>
<polygon points="201.0,207.5 196.0,209.0 193.0,212.0 188.0,213.0 185.0,216.0 181.0,217.5 178.0,220.5 178.5,222.5 182.0,223.0 184.0,225.5 187.0,226.5 189.0,229.5 192.0,231.0 193.5,233.5 197.0,234.0 201.0,235.5" fill="#000" filter="url(#rough)"/>
<polygon points="201.0,150.5 196.0,151.5 192.5,151.0 190.5,153.0 188.0,154.0 187.5,157.0 189.0,159.0 187.5,162.0 189.5,164.0 190.5,166.5 194.0,167.0 196.0,168.5 201.0,168.0" fill="#000" filter="url(#rough)"/>
<path d="M189.9,93.7h1v1h-1zM198.5,87.9h1v1.8h-1zM187.3,94.0h2.0v1h-2.0zM188.0,101.0h1v1.8h-1zM184.6,97.3h1v1.8h-1zM194.9,88.9h1.3v1h-1.3zM194.4,91.0h2.0v1h-2.0zM194.1,100.4h1.3v1h-1.3zM194.8,101.8h1.6v1h-1.6zM194.2,89.6h1v1.8h-1zM187.1,103.2h2.0v1.3h-2.0zM192.8,107.7h1.6v1.3h-1.6zM188.2,95.0h1.3v1h-1.3zM194.7,99.4h1.6v1.8h-1.6zM192.4,101.4h1v1h-1zM193.6,92.1h1.6v1h-1.6zM200.1,95.6h1v1.8h-1zM194.7,107.0h1.6v1.3h-1.6zM196.7,100.6h2.0v1h-2.0zM198.8,109.1h2.0v1.8h-2.0zM196.2,88.4h1.6v1.8h-1.6zM194.8,102.7h2.0v1.3h-2.0zM197.0,107.5h1.6v1h-1.6zM200.2,93.9h1v1.3h-1zM182.1,104.4h1.3v1.8h-1.3zM188.1,98.4h2.0v1h-2.0zM185.9,99.2h1.6v1h-1.6zM198.5,107.1h1.6v1.8h-1.6zM191.8,96.7h2.0v1h-2.0zM185.5,96.2h1.3v1.8h-1.3zM187.8,100.0h1.3v1.3h-1.3zM189.0,94.0h1.6v1.8h-1.6zM194.6,108.6h1v1.3h-1zM199.6,105.0h2.0v1.3h-2.0zM191.5,92.0h2.0v1h-2.0zM186.6,107.7h2.0v1h-2.0zM184.1,102.3h1v1h-1zM194.6,99.6h1.6v1.8h-1.6zM180.2,105.4h2.0v1h-2.0zM195.7,108.9h1.6v1.3h-1.6zM184.6,105.5h2.0v1.3h-2.0zM193.1,90.7h1v1.8h-1zM190.3,95.5h1.3v1.8h-1.3zM180.0,106.1h1.6v1h-1.6zM196.6,108.1h1.6v1.8h-1.6zM199.1,102.9h1.6v1.8h-1.6zM190.8,93.5h1.3v1.8h-1.3zM194.1,99.0h1.3v1.8h-1.3zM198.4,110.1h1.3v1h-1.3zM198.5,104.0h1.3v1h-1.3zM193.7,96.0h1v1h-1zM198.1,97.4h1.3v1.8h-1.3zM195.2,95.3h1.6v1.3h-1.6zM183.0,96.5h2.0v1h-2.0zM190.2,99.4h1v1.3h-1zM199.8,93.7h1v1.8h-1zM184.5,99.5h1.3v1.3h-1.3zM199.5,96.1h1.6v1h-1.6zM198.2,109.7h2.0v1.3h-2.0zM191.5,108.0h1.3v1h-1.3zM200.9,84.8h2.0v1.8h-2.0zM185.3,105.3h2.0v1.8h-2.0zM200.2,88.6h1.3v1h-1.3zM179.3,106.1h1v1.8h-1zM197.5,89.6h1.3v1h-1.3zM180.4,99.0h1.3v1.8h-1.3zM190.0,100.6h1.3v1h-1.3zM199.8,94.0h2.0v1.8h-2.0zM194.8,107.6h2.0v1.8h-2.0zM184.8,96.2h1v1.3h-1zM197.9,100.8h1.3v1h-1.3zM185.2,102.4h1v1.8h-1zM182.2,103.4h2.0v1h-2.0zM199.4,86.5h1.3v1.3h-1.3zM181.2,97.5h2.0v1.8h-2.0zM180.3,105.6h1v1.3h-1zM189.9,108.2h1.3v1.8h-1.3zM188.9,100.2h2.0v1.8h-2.0zM200.2,102.9h1.6v1.8h-1.6zM199.5,90.1h2.0v1h-2.0zM191.8,97.3h1.6v1h-1.6zM196.3,96.8h1.3v1.8h-1.3zM189.4,93.4h1.3v1.8h-1.3zM195.8,95.5h1.6v1h-1.6zM200.6,90.1h1v1.3h-1zM199.4,89.2h1.3v1h-1.3zM196.8,110.0h2.0v1.3h-2.0zM191.9,96.6h1v1.8h-1zM190.8,96.6h2.0v1.3h-2.0zM196.8,95.7h1.6v1.8h-1.6zM200.5,87.3h1.3v1h-1.3zM183.1,98.5h1.3v1.3h-1.3zM197.6,105.9h1.6v1.3h-1.6zM185.4,106.6h2.0v1.8h-2.0zM190.0,95.9h1.3v1.3h-1.3zM199.6,91.8h1v1.8h-1zM183.3,98.3h1.3v1h-1.3zM188.5,93.9h1v1.3h-1zM200.9,95.3h1.6v1.8h-1.6zM184.8,101.2h1.3v1h-1.3zM200.6,91.2h1.3v1h-1.3zM200.1,101.1h1.3v1.3h-1.3zM192.4,102.7h1.6v1.3h-1.6zM198.3,110.3h1v1h-1zM179.7,102.0h1.3v1.8h-1.3zM192.9,108.0h1v1.8h-1zM198.5,96.3h2.0v1.8h-2.0zM198.7,95.3h1.6v1.8h-1.6zM187.3,96.2h1.3v1.8h-1.3zM197.2,89.7h1.6v1h-1.6zM198.8,85.8h1.6v1.3h-1.6zM185.9,94.7h2.0v1.8h-2.0zM196.3,93.5h1.3v1.8h-1.3zM189.2,99.3h1.3v1.3h-1.3zM192.4,94.6h1.6v1.8h-1.6zM189.9,91.6h1.6v1h-1.6zM190.6,90.6h2.0v1h-2.0zM192.9,99.2h1.3v1h-1.3zM193.5,88.8h1.6v1h-1.6zM185.3,102.0h2.0v1h-2.0zM189.4,102.2h1v1.8h-1zM200.4,107.0h1.3v1.8h-1.3zM199.5,105.1h2.0v1.3h-2.0zM197.0,98.2h1.6v1.8h-1.6zM195.4,90.7h2.0v1.8h-2.0zM196.7,98.5h1v1.8h-1zM194.9,107.3h1.3v1h-1.3zM180.6,98.2h1.6v1h-1.6zM191.0,98.7h1v1.8h-1zM179.7,102.2h1.3v1.3h-1.3zM188.5,99.4h1v1.8h-1zM200.1,108.1h1v1.8h-1zM193.9,104.1h2.0v1.3h-2.0zM198.4,106.6h1.3v1.8h-1.3zM197.6,91.7h2.0v1.3h-2.0z" fill="#000" opacity="0.92"/>
<path d="M201.0,29.5L197.9,30.9L199.8,32.1ZM197.9,30.9L195.1,32.3L196.6,32.9ZM195.1,32.3L192.1,33.8L194.0,34.9ZM192.1,33.8L189.2,35.2L190.8,35.9ZM189.2,35.2L186.3,36.7L187.8,37.2ZM186.3,36.7L183.3,38.3L185.1,39.2ZM183.3,38.3L180.1,40.1L181.9,40.5ZM180.1,40.1L176.8,42.0L178.9,42.6ZM176.8,42.0L173.4,44.1L175.4,44.4ZM173.4,44.1L169.8,46.4L172.1,46.9ZM169.8,46.4L166.2,48.8L168.5,49.2ZM166.2,48.8L162.6,51.2L165.0,51.5ZM162.6,51.2L159.1,53.7L161.2,53.6ZM159.1,53.7L155.6,56.3L157.9,56.4ZM155.6,56.3L152.1,58.9L154.4,59.0ZM152.1,58.9L148.5,61.5L151.1,62.0Z" fill="#000"/>
</g>
<rect x="176.6" y="54.6" width="4.4" height="4.4" fill="#fff"/>
<text x="144.6" y="51.0" class="ml" textLength="32.4" lengthAdjust="spacingAndGlyphs">L1(260°)</text>
<rect x="149.6" y="66.0" width="4.4" height="4.4" fill="#fff"/>
<text x="117.4" y="64.0" class="ml" textLength="32.3" lengthAdjust="spacingAndGlyphs">L1(255°)</text>
<rect x="132.5" y="76.8" width="4.4" height="4.4" fill="#fff"/>
<text x="98.7" y="77.4" class="ml" textLength="32.9" lengthAdjust="spacingAndGlyphs">L1(250°)</text>
<rect x="115.7" y="90.3" width="4.4" height="4.4" fill="#fff"/>
<text x="82.4" y="91.7" class="ml" textLength="32.4" lengthAdjust="spacingAndGlyphs">L1(240°)</text>
<rect x="113.8" y="115.1" width="4.4" height="4.4" fill="#fff"/>
<text x="93.5" y="129.0" class="ml" textLength="31.5" lengthAdjust="spacingAndGlyphs">L1(210°)</text>
<rect x="142.8" y="123.8" width="4.4" height="4.4" fill="#fff"/>
<text x="127.2" y="137.0" class="ml" textLength="31.6" lengthAdjust="spacingAndGlyphs">L1(180°)</text>
<rect x="179.1" y="126.8" width="4.4" height="4.4" fill="#fff"/>
<text x="162.0" y="140.2" class="ml" textLength="32.3" lengthAdjust="spacingAndGlyphs">L1(150°)</text>
<rect x="173.4" y="177.2" width="4.4" height="4.4" fill="#fff"/>
<text x="158.3" y="173.4" class="ml" textLength="32.4" lengthAdjust="spacingAndGlyphs">L2(150°)</text>
<rect x="137.8" y="184.5" width="4.4" height="4.4" fill="#fff"/>
<text x="121.8" y="181.7" class="ml" textLength="32.2" lengthAdjust="spacingAndGlyphs">L2(180°)</text>
<rect x="184.3" y="196.4" width="4.4" height="4.4" fill="#fff"/>
<text x="165.3" y="193.3" class="ml" textLength="32.4" lengthAdjust="spacingAndGlyphs">L3(150°)</text>
<rect x="115.7" y="200.4" width="4.4" height="4.4" fill="#fff"/>
<text x="92.7" y="197.2" class="ml" textLength="32.3" lengthAdjust="spacingAndGlyphs">L2(210°)</text>
<rect x="152.8" y="205.6" width="4.4" height="4.4" fill="#fff"/>
<text x="159.3" y="212.0" class="ml" textLength="32.4" lengthAdjust="spacingAndGlyphs">L3(180°)</text>
<rect x="135.8" y="223.8" width="4.4" height="4.4" fill="#fff"/>
<text x="142.5" y="228.4" class="ml" textLength="32.5" lengthAdjust="spacingAndGlyphs">L3(210°)</text>
<rect x="128.8" y="233.3" width="4.4" height="4.4" fill="#fff"/>
<text x="96.6" y="243.0" class="ml" textLength="31.9" lengthAdjust="spacingAndGlyphs">L2(240°)</text>
<rect x="152.8" y="251.4" width="4.4" height="4.4" fill="#fff"/>
<text x="147.7" y="245.0" class="ml" textLength="31.8" lengthAdjust="spacingAndGlyphs">L2(250°)</text>
<rect x="171.6" y="263.3" width="4.4" height="4.4" fill="#fff"/>
<text x="166.6" y="257.4" class="ml" textLength="32.4" lengthAdjust="spacingAndGlyphs">L2(255°)</text>
<rect x="148.8" y="264.4" width="4.4" height="4.4" fill="#fff"/>
<text x="114.0" y="267.2" class="ml" textLength="31.9" lengthAdjust="spacingAndGlyphs">L3(240°)</text>
<rect x="171.6" y="284.1" width="4.4" height="4.4" fill="#fff"/>
<text x="155.0" y="280.2" class="ml" textLength="31.8" lengthAdjust="spacingAndGlyphs">L3(250°)</text>
<path d="M199.5,28V291.1H68" fill="none" stroke="#000" stroke-width="1.2"/>
<line x1="62" y1="35.6" x2="68" y2="35.6" stroke="#000" stroke-width="1.4"/>
<text transform="translate(58.7,40.5) scale(0.95,1)" text-anchor="end" class="tk">150</text>
<line x1="62" y1="76.9" x2="68" y2="76.9" stroke="#000" stroke-width="1.4"/>
<text transform="translate(58.7,81.8) scale(0.95,1)" text-anchor="end" class="tk">100</text>
<line x1="62" y1="118.2" x2="68" y2="118.2" stroke="#000" stroke-width="1.4"/>
<text transform="translate(58.7,123.1) scale(0.95,1)" text-anchor="end" class="tk">50</text>
<line x1="62" y1="159.5" x2="68" y2="159.5" stroke="#000" stroke-width="1.4"/>
<text transform="translate(58.7,164.4) scale(0.95,1)" text-anchor="end" class="tk">0</text>
<line x1="62" y1="200.8" x2="68" y2="200.8" stroke="#000" stroke-width="1.4"/>
<text transform="translate(58.7,205.7) scale(0.95,1)" text-anchor="end" class="tk">50</text>
<rect x="36.0" y="200.5" width="5.4" height="2.1" fill="#000"/>
<line x1="62" y1="242.1" x2="68" y2="242.1" stroke="#000" stroke-width="1.4"/>
<text transform="translate(58.7,247.0) scale(0.95,1)" text-anchor="end" class="tk">100</text>
<rect x="27.7" y="241.8" width="5.4" height="2.1" fill="#000"/>
<line x1="62" y1="283.4" x2="68" y2="283.4" stroke="#000" stroke-width="1.4"/>
<text transform="translate(58.7,288.3) scale(0.95,1)" text-anchor="end" class="tk">150</text>
<rect x="27.7" y="283.1" width="5.4" height="2.1" fill="#000"/>
<line x1="65" y1="56.2" x2="68" y2="56.2" stroke="#000" stroke-width="1.2"/>
<line x1="65" y1="97.6" x2="68" y2="97.6" stroke="#000" stroke-width="1.2"/>
<line x1="65" y1="138.8" x2="68" y2="138.8" stroke="#000" stroke-width="1.2"/>
<line x1="65" y1="180.2" x2="68" y2="180.2" stroke="#000" stroke-width="1.2"/>
<line x1="65" y1="221.4" x2="68" y2="221.4" stroke="#000" stroke-width="1.2"/>
<line x1="65" y1="262.8" x2="68" y2="262.8" stroke="#000" stroke-width="1.2"/>
<line x1="83.9" y1="291" x2="83.9" y2="297.4" stroke="#000" stroke-width="1.4"/>
<rect x="72.6" y="307.8" width="5.4" height="2.1" fill="#000"/>
<text transform="translate(78.6,313) scale(0.95,1)" class="tk">60</text>
<line x1="108.7" y1="291" x2="108.7" y2="297.4" stroke="#000" stroke-width="1.4"/>
<rect x="97.4" y="307.8" width="5.4" height="2.1" fill="#000"/>
<text transform="translate(103.4,313) scale(0.95,1)" class="tk">30</text>
<line x1="133.5" y1="291" x2="133.5" y2="297.4" stroke="#000" stroke-width="1.4"/>
<text transform="translate(129.3,313) scale(0.95,1)" class="tk">0</text>
<line x1="158.3" y1="291" x2="158.3" y2="297.4" stroke="#000" stroke-width="1.4"/>
<text transform="translate(150.0,313) scale(0.95,1)" class="tk">30</text>
<line x1="183.1" y1="291" x2="183.1" y2="297.4" stroke="#000" stroke-width="1.4"/>
<text transform="translate(174.8,313) scale(0.95,1)" class="tk">60</text>
<line x1="71.5" y1="291" x2="71.5" y2="294.4" stroke="#000" stroke-width="1.2"/>
<line x1="96.3" y1="291" x2="96.3" y2="294.4" stroke="#000" stroke-width="1.2"/>
<line x1="121.1" y1="291" x2="121.1" y2="294.4" stroke="#000" stroke-width="1.2"/>
<line x1="145.9" y1="291" x2="145.9" y2="294.4" stroke="#000" stroke-width="1.2"/>
<line x1="170.7" y1="291" x2="170.7" y2="294.4" stroke="#000" stroke-width="1.2"/>
<line x1="195.5" y1="291" x2="195.5" y2="294.4" stroke="#000" stroke-width="1.2"/>
<text x="46" y="338.5" class="ax" textLength="176" lengthAdjust="spacingAndGlyphs">Horizontal direction (cm)</text>
<text transform="translate(17,237.5) rotate(-90)" class="ax" textLength="158" lengthAdjust="spacingAndGlyphs">Vertical direction (cm)</text>
<text x="159.5" y="18" class="ti">Lill <tspan font-size="13.5" font-weight="700">(</tspan>Phs*cm<tspan font-size="10.5" dy="-7">-2</tspan><tspan dy="7">*s</tspan><tspan font-size="10.5" dy="-7">-1</tspan><tspan dy="7" font-size="13.5" font-weight="700">)</tspan></text>
<rect x="208.2" y="28" width="35.2" height="263.4" fill="url(#cb)"/>
<text x="248.2" y="33.2" class="cbt" textLength="51.2" lengthAdjust="spacingAndGlyphs">2.0E+15</text>
<line x1="238.2" y1="79.6" x2="243.39999999999998" y2="79.6" stroke="#000" stroke-width="1.2"/>
<text x="248.2" y="84.8" class="cbt" textLength="51.2" lengthAdjust="spacingAndGlyphs">1.6E+15</text>
<line x1="238.2" y1="131.2" x2="243.39999999999998" y2="131.2" stroke="#000" stroke-width="1.2"/>
<text x="248.2" y="136.4" class="cbt" textLength="51.2" lengthAdjust="spacingAndGlyphs">1.2E+15</text>
<line x1="238.2" y1="182.8" x2="243.39999999999998" y2="182.8" stroke="#000" stroke-width="1.2"/>
<text x="248.2" y="188.0" class="cbt" textLength="51.2" lengthAdjust="spacingAndGlyphs">8.0E+14</text>
<line x1="238.2" y1="234.4" x2="243.39999999999998" y2="234.4" stroke="#000" stroke-width="1.2"/>
<text x="248.2" y="239.6" class="cbt" textLength="51.2" lengthAdjust="spacingAndGlyphs">4.0E+14</text>
<text x="248.2" y="291.2" class="cbt">0.0</text>
<text x="6" y="340" class="pl">(a)</text>
</g>
<!-- panel b -->
<g>
<clipPath id="clipb"><rect x="383.5" y="27.6" width="132" height="264"/></clipPath>
<rect x="383.2" y="27.6" width="132.3" height="264" fill="#000"/>
<g clip-path="url(#clipb)">
<clipPath id="regb"><path d="M518.3,27.3C516.6,28.1 511.6,30.3 507.9,32.3C504.1,34.3 500.2,36.7 495.8,39.5C491.4,42.3 486.4,46.0 481.7,49.3C477.0,52.6 472.3,56.0 467.6,59.5C462.9,63.0 457.8,66.5 453.5,70.1C449.2,73.7 445.3,77.9 441.7,81.1C438.1,84.3 434.9,86.6 432.0,89.3C429.1,92.0 426.8,94.5 424.2,97.1C421.6,99.7 418.8,102.2 416.4,104.9C413.9,107.6 411.6,110.3 409.5,113.5C407.4,116.7 405.2,120.4 403.5,123.9C401.8,127.4 400.3,130.4 399.1,134.3C397.9,138.2 396.8,143.3 396.1,147.3C395.4,151.3 394.9,154.3 394.8,158.3C394.7,162.3 395.1,167.6 395.6,171.3C396.1,175.0 397.0,177.7 397.8,180.3C398.6,182.9 399.3,184.7 400.3,187.0C401.3,189.3 402.5,191.9 403.8,194.3C405.1,196.7 406.1,198.3 408.1,201.3C410.2,204.3 413.5,208.9 416.1,212.3C418.8,215.7 421.6,219.0 424.0,221.8C426.4,224.6 427.9,227.1 430.3,229.3C432.7,231.6 435.5,233.7 438.3,235.3C441.1,236.9 445.8,236.8 447.0,239.1C448.2,241.4 445.1,245.4 445.8,249.3C446.5,253.2 448.8,258.4 451.0,262.3C453.2,266.2 455.7,269.3 458.8,272.8C461.9,276.3 466.1,280.2 469.4,283.3C472.6,286.4 476.8,290.0 478.3,291.3L520.5,296L520.5,23Z"/></clipPath>
<path d="M518.3,27.3C516.6,28.1 511.6,30.3 507.9,32.3C504.1,34.3 500.2,36.7 495.8,39.5C491.4,42.3 486.4,46.0 481.7,49.3C477.0,52.6 472.3,56.0 467.6,59.5C462.9,63.0 457.8,66.5 453.5,70.1C449.2,73.7 445.3,77.9 441.7,81.1C438.1,84.3 434.9,86.6 432.0,89.3C429.1,92.0 426.8,94.5 424.2,97.1C421.6,99.7 418.8,102.2 416.4,104.9C413.9,107.6 411.6,110.3 409.5,113.5C407.4,116.7 405.2,120.4 403.5,123.9C401.8,127.4 400.3,130.4 399.1,134.3C397.9,138.2 396.8,143.3 396.1,147.3C395.4,151.3 394.9,154.3 394.8,158.3C394.7,162.3 395.1,167.6 395.6,171.3C396.1,175.0 397.0,177.7 397.8,180.3C398.6,182.9 399.3,184.7 400.3,187.0C401.3,189.3 402.5,191.9 403.8,194.3C405.1,196.7 406.1,198.3 408.1,201.3C410.2,204.3 413.5,208.9 416.1,212.3C418.8,215.7 421.6,219.0 424.0,221.8C426.4,224.6 427.9,227.1 430.3,229.3C432.7,231.6 435.5,233.7 438.3,235.3C441.1,236.9 445.8,236.8 447.0,239.1C448.2,241.4 445.1,245.4 445.8,249.3C446.5,253.2 448.8,258.4 451.0,262.3C453.2,266.2 455.7,269.3 458.8,272.8C461.9,276.3 466.1,280.2 469.4,283.3C472.6,286.4 476.8,290.0 478.3,291.3L520.5,296L520.5,23Z" fill="#0822f2"/>
<g clip-path="url(#regb)">
<path d="M519.3,54.3C514.8,56.1 500.6,61.1 492.3,65.3C484.0,69.5 475.5,74.3 469.3,79.3C463.1,84.3 457.6,92.6 455.3,95.3" fill="none" stroke="#0868ff" stroke-width="13" stroke-linecap="round" stroke-linejoin="round" opacity="0.85" filter="url(#b4)"/>
<path d="M442.3,119.3C446.5,120.5 454.8,124.3 467.3,126.3C479.8,128.3 509.0,130.5 517.3,131.3" fill="none" stroke="#0048ff" stroke-width="8" stroke-linecap="round" stroke-linejoin="round" opacity="0.6" filter="url(#b4)"/>
<path d="M427.3,207.3C430.6,206.0 440.6,202.3 447.3,199.3C454.0,196.3 464.0,191.0 467.3,189.3" fill="none" stroke="#0050ff" stroke-width="10" stroke-linecap="round" stroke-linejoin="round" opacity="0.6" filter="url(#b4)"/>
<path d="M467.3,231.3C470.6,233.6 479.0,240.3 487.3,245.3C495.6,250.3 512.3,258.6 517.3,261.3" fill="none" stroke="#0058ff" stroke-width="10" stroke-linecap="round" stroke-linejoin="round" opacity="0.6" filter="url(#b4)"/>
<path d="M455.3,249.3C458.6,251.5 468.0,257.8 475.3,262.3C482.6,266.8 492.0,272.1 499.3,276.3C506.6,280.5 516.0,285.5 519.3,287.3" fill="none" stroke="#0060ff" stroke-width="11" stroke-linecap="round" stroke-linejoin="round" opacity="0.8" filter="url(#b4)"/>
<path d="M453.5,70.1C451.5,71.9 445.3,77.9 441.7,81.1C438.1,84.3 434.9,86.6 432.0,89.3C429.1,92.0 426.8,94.5 424.2,97.1C421.6,99.7 418.8,102.2 416.4,104.9C413.9,107.6 411.6,110.3 409.5,113.5C407.4,116.7 405.2,120.4 403.5,123.9C401.8,127.4 400.3,130.4 399.1,134.3C397.9,138.2 396.8,143.3 396.1,147.3C395.4,151.3 394.9,154.3 394.8,158.3C394.7,162.3 395.1,167.6 395.6,171.3C396.1,175.0 397.0,177.7 397.8,180.3C398.6,182.9 399.3,184.7 400.3,187.0C401.3,189.3 402.5,191.9 403.8,194.3C405.1,196.7 406.1,198.3 408.1,201.3C410.2,204.3 413.5,208.9 416.1,212.3C418.8,215.7 421.6,219.0 424.0,221.8C426.4,224.6 427.9,227.1 430.3,229.3C432.7,231.6 435.5,233.7 438.3,235.3C441.1,236.9 445.3,236.8 447.0,239.1C448.7,241.4 448.1,247.6 448.3,249.3" fill="none" stroke="#0048ff" stroke-width="8" stroke-linecap="round" stroke-linejoin="round" opacity="0.8" filter="url(#b2)"/>
<path d="M430.0,107.0C429.0,107.3 425.8,108.2 423.8,109.1C421.8,110.0 420.3,110.6 418.2,112.3C416.1,114.0 413.5,116.5 411.3,119.3C409.1,122.1 406.9,125.6 405.2,129.3C403.5,133.0 402.1,137.1 400.9,141.3C399.7,145.5 398.7,150.5 398.1,154.3C397.6,158.1 397.4,160.8 397.6,164.3C397.8,167.8 398.4,171.8 399.1,175.3C399.8,178.8 400.3,181.8 401.8,185.3C403.3,188.8 405.7,193.1 408.1,196.3C410.5,199.5 414.0,202.6 416.1,204.3C418.2,206.1 420.0,206.4 420.8,206.8" fill="none" stroke="#0060ff" stroke-width="9" stroke-linecap="round" stroke-linejoin="round" opacity="0.9" filter="url(#b2)"/>
<path d="M430.0,107.0C429.0,107.3 425.8,108.2 423.8,109.1C421.8,110.0 420.3,110.6 418.2,112.3C416.1,114.0 413.5,116.5 411.3,119.3C409.1,122.1 406.9,125.6 405.2,129.3C403.5,133.0 402.1,137.1 400.9,141.3C399.7,145.5 398.7,150.5 398.1,154.3C397.6,158.1 397.4,160.8 397.6,164.3C397.8,167.8 398.4,171.8 399.1,175.3C399.8,178.8 400.3,181.8 401.8,185.3C403.3,188.8 405.7,193.1 408.1,196.3C410.5,199.5 414.0,202.6 416.1,204.3C418.2,206.1 420.0,206.4 420.8,206.8" fill="none" stroke="#30a0ff" stroke-width="2.6" stroke-linecap="round" stroke-linejoin="round" opacity="0.95" filter="url(#b1)"/>
<path d="M404.2,157.0C404.2,155.3 404.6,151.8 404.9,150.0C405.2,148.2 405.4,147.9 406.3,146.0C407.2,144.1 409.0,140.4 410.6,138.4C412.2,136.4 413.9,135.2 416.1,134.2C418.3,133.2 420.0,132.7 423.6,132.5C427.2,132.3 432.4,132.9 437.6,133.2C442.8,133.5 449.6,134.0 455.0,134.5C460.4,135.0 467.0,135.3 470.2,136.0C473.4,136.7 473.2,136.8 474.1,138.5C475.0,140.2 475.4,141.9 475.6,146.0C475.9,150.1 475.7,158.8 475.6,163.3C475.5,167.8 475.5,170.9 474.9,173.0C474.3,175.1 474.0,175.3 472.1,176.0C470.2,176.7 466.5,176.9 463.6,177.2C460.8,177.5 458.0,177.6 455.0,178.0C452.0,178.4 448.5,179.0 445.6,179.4C442.7,179.8 440.2,180.3 437.6,180.6C435.0,180.9 432.6,181.6 430.1,181.2C427.6,180.8 424.9,179.8 422.6,178.4C420.3,177.0 418.4,175.2 416.1,173.0C413.8,170.8 410.4,167.7 408.6,165.5C406.8,163.3 405.9,161.4 405.2,160.0C404.5,158.6 404.3,158.7 404.2,157.0Z" fill="none" stroke="#0000d8" stroke-width="9" stroke-linecap="round" stroke-linejoin="round" opacity="0.75" filter="url(#b2)"/>
<path d="M420.8,206.8C421.6,206.1 423.3,204.2 425.6,202.8C427.9,201.4 431.2,200.2 434.8,198.3C438.4,196.4 443.6,193.3 447.3,191.3C451.1,189.3 453.6,188.3 457.3,186.3C461.0,184.3 467.3,180.5 469.3,179.3" fill="none" stroke="#2898ff" stroke-width="3.2" stroke-linecap="round" stroke-linejoin="round" opacity="0.9" filter="url(#b1)"/>
<path d="M428.8,211.3C429.6,212.8 431.8,217.8 433.5,220.3C435.2,222.8 438.3,225.3 439.3,226.3" fill="none" stroke="#10d0ff" stroke-width="1.8" stroke-linecap="round" stroke-linejoin="round" opacity="0.9" filter="url(#b1)"/>
<path d="M455.3,223.3C456.3,225.0 458.1,230.3 461.3,233.3C464.5,236.3 469.0,238.1 474.3,241.3C479.6,244.5 485.6,248.4 492.9,252.3C500.2,256.2 514.1,262.7 518.3,264.8" fill="none" stroke="#20a0ff" stroke-width="4.5" stroke-linecap="round" stroke-linejoin="round" opacity="1" filter="url(#b1)"/>
<path d="M450.3,245.3C453.1,247.4 460.8,253.6 467.3,258.0C473.8,262.4 480.8,267.2 489.3,272.0C497.8,276.8 513.5,284.5 518.3,287.0" fill="none" stroke="#2090ff" stroke-width="4.5" stroke-linecap="round" stroke-linejoin="round" opacity="0.9" filter="url(#b1)"/>
<path d="M493.3,169.3C492.3,171.8 489.5,179.6 487.3,184.3C485.1,189.0 482.6,193.5 480.3,197.3C478.0,201.1 474.5,205.6 473.3,207.2" fill="none" stroke="#30a0ff" stroke-width="2.0" stroke-linecap="round" stroke-linejoin="round" opacity="0.25" filter="url(#b1)"/>
<path d="M518.3,177.8C515.6,179.6 507.8,184.7 502.3,188.3C496.8,191.9 490.1,196.2 485.3,199.3C480.5,202.5 475.3,205.9 473.3,207.2" fill="none" stroke="#2478ff" stroke-width="4" stroke-linecap="round" stroke-linejoin="round" opacity="0.85" filter="url(#b1)"/>
<path d="M477.3,135.3C479.8,134.6 485.5,132.1 492.3,131.3C499.1,130.5 514.0,130.5 518.3,130.3" fill="none" stroke="#2080ff" stroke-width="1.6" stroke-linecap="round" stroke-linejoin="round" opacity="0.5" filter="url(#b1)"/>
<path d="M478.3,121.3C479.1,123.3 481.9,128.6 483.3,133.3C484.7,138.0 486.4,143.6 486.8,149.3C487.2,155.0 486.9,161.3 485.8,167.3C484.7,173.3 481.2,182.3 480.3,185.3" fill="none" stroke="#2488ff" stroke-width="2.2" stroke-linecap="round" stroke-linejoin="round" opacity="0.75" filter="url(#b1)"/>
<path d="M519.0,41.4C518.5,41.7 519.3,41.2 516.0,43.0C512.7,44.8 505.0,49.1 499.3,52.2C493.6,55.4 487.5,58.8 482.0,61.9C476.5,65.0 470.7,68.2 466.4,70.8C462.1,73.4 459.1,75.2 456.0,77.3C452.9,79.4 450.6,81.2 448.0,83.5C445.4,85.8 442.5,88.5 440.4,90.8C438.3,93.1 436.7,95.4 435.3,97.5C433.9,99.6 432.8,101.9 432.0,103.5C431.2,105.1 430.8,106.4 430.5,107.0" fill="none" stroke="#0080ff" stroke-width="18" stroke-linecap="round" stroke-linejoin="round" opacity="0.95" filter="url(#b2)"/>
<path d="M430.0,107.0C431.3,107.7 434.7,109.4 437.9,111.0C441.1,112.6 445.0,114.8 449.0,116.5C453.0,118.2 458.0,120.1 461.7,121.3C465.4,122.5 466.9,123.0 471.2,123.7C475.5,124.5 479.5,125.3 487.3,125.8C495.1,126.3 513.1,126.6 518.3,126.8" fill="none" stroke="#0080ff" stroke-width="9" stroke-linecap="round" stroke-linejoin="round" opacity="0.95" filter="url(#b2)"/>
<path d="M442.7,92.0C441.9,93.3 438.8,97.8 437.9,99.9C437.0,102.0 436.3,103.0 437.1,104.7C437.9,106.4 440.2,108.6 442.7,110.3C445.2,112.0 448.8,113.6 452.2,115.0C455.6,116.4 461.5,118.2 463.3,118.8" fill="none" stroke="#0080ff" stroke-width="8" stroke-linecap="round" stroke-linejoin="round" opacity="0.95" filter="url(#b2)"/>
<path d="M452.8,79.3C453.1,80.3 453.8,83.2 454.5,85.6C455.2,88.0 455.8,90.7 456.9,93.6C458.0,96.5 459.6,100.2 460.9,103.1C462.2,106.0 463.4,108.6 464.8,111.0C466.2,113.4 468.0,114.7 469.6,117.3C471.2,119.9 472.9,123.6 474.3,126.8C475.7,130.0 477.1,132.6 477.8,136.3C478.6,140.1 478.6,145.5 478.8,149.3C479.0,153.1 478.8,157.6 478.8,159.3" fill="none" stroke="#0080ff" stroke-width="11" stroke-linecap="round" stroke-linejoin="round" opacity="0.95" filter="url(#b2)"/>
<path d="M478.8,159.3C478.7,161.3 478.6,167.0 478.3,171.3C478.0,175.6 477.4,180.6 476.8,185.3C476.2,190.0 475.4,195.7 474.8,199.3C474.2,203.0 475.1,205.0 473.3,207.2C471.5,209.4 466.9,209.9 464.0,212.3C461.1,214.7 458.2,218.8 456.2,221.6C454.3,224.4 453.4,226.9 452.3,229.3C451.2,231.7 450.1,234.9 449.6,236.0" fill="none" stroke="#0080ff" stroke-width="11" stroke-linecap="round" stroke-linejoin="round" opacity="0.95" filter="url(#b2)"/>
<path d="M401.8,185.3C402.9,187.1 405.7,193.1 408.1,196.3C410.5,199.5 414.0,202.6 416.1,204.3C418.2,206.1 419.5,205.5 420.8,206.8C422.1,208.1 422.7,210.3 424.0,212.3C425.3,214.3 427.0,216.4 428.8,218.7C430.6,221.0 432.5,224.0 434.6,226.1C436.7,228.2 439.0,229.6 441.3,231.1C443.6,232.6 445.4,233.1 448.3,235.3C451.2,237.5 455.6,241.8 459.0,244.3C462.4,246.8 465.3,248.4 468.5,250.5C471.7,252.6 474.8,254.9 478.0,257.0C481.2,259.1 484.3,260.9 487.5,262.8C490.7,264.7 493.8,266.7 497.0,268.5C500.2,270.3 503.3,272.1 506.5,273.8C509.7,275.6 513.8,277.8 516.0,279.0C518.2,280.2 519.3,280.8 520.0,281.2" fill="none" stroke="#0080ff" stroke-width="17" stroke-linecap="round" stroke-linejoin="round" opacity="0.95" filter="url(#b2)"/>
<path d="M519.0,41.4C518.5,41.7 519.3,41.2 516.0,43.0C512.7,44.8 505.0,49.1 499.3,52.2C493.6,55.4 487.5,58.8 482.0,61.9C476.5,65.0 470.7,68.2 466.4,70.8C462.1,73.4 459.1,75.2 456.0,77.3C452.9,79.4 450.6,81.2 448.0,83.5C445.4,85.8 442.5,88.5 440.4,90.8C438.3,93.1 436.7,95.4 435.3,97.5C433.9,99.6 432.8,101.9 432.0,103.5C431.2,105.1 430.8,106.4 430.5,107.0" fill="none" stroke="#00c0ff" stroke-width="11" stroke-linecap="round" stroke-linejoin="round" opacity="1" filter="url(#b1)"/>
<path d="M401.8,185.3C402.9,187.1 405.7,193.1 408.1,196.3C410.5,199.5 414.0,202.6 416.1,204.3C418.2,206.1 419.5,205.5 420.8,206.8C422.1,208.1 422.7,210.3 424.0,212.3C425.3,214.3 427.0,216.4 428.8,218.7C430.6,221.0 432.5,224.0 434.6,226.1C436.7,228.2 439.0,229.6 441.3,231.1C443.6,232.6 445.4,233.1 448.3,235.3C451.2,237.5 455.6,241.8 459.0,244.3C462.4,246.8 465.3,248.4 468.5,250.5C471.7,252.6 474.8,254.9 478.0,257.0C481.2,259.1 484.3,260.9 487.5,262.8C490.7,264.7 493.8,266.7 497.0,268.5C500.2,270.3 503.3,272.1 506.5,273.8C509.7,275.6 513.8,277.8 516.0,279.0C518.2,280.2 519.3,280.8 520.0,281.2" fill="none" stroke="url(#gL2wb)" stroke-width="7.2" stroke-linecap="round" stroke-linejoin="round" opacity="1" filter="url(#b1)"/>
<path d="M519.0,41.4C518.5,41.7 519.3,41.2 516.0,43.0C512.7,44.8 505.0,49.1 499.3,52.2C493.6,55.4 487.5,58.8 482.0,61.9C476.5,65.0 470.7,68.2 466.4,70.8C462.1,73.4 459.1,75.2 456.0,77.3C452.9,79.4 450.6,81.2 448.0,83.5C445.4,85.8 442.5,88.5 440.4,90.8C438.3,93.1 436.7,95.4 435.3,97.5C433.9,99.6 432.8,101.9 432.0,103.5C431.2,105.1 430.8,106.4 430.5,107.0" fill="none" stroke="url(#gL1hb)" stroke-width="7" stroke-linecap="round" stroke-linejoin="round" opacity="1" filter="url(#b1)"/>
<path d="M430.0,107.0C431.3,107.7 434.7,109.4 437.9,111.0C441.1,112.6 445.0,114.8 449.0,116.5C453.0,118.2 458.0,120.1 461.7,121.3C465.4,122.5 466.9,123.0 471.2,123.7C475.5,124.5 479.5,125.3 487.3,125.8C495.1,126.3 513.1,126.6 518.3,126.8" fill="none" stroke="url(#gAhb)" stroke-width="4.5" stroke-linecap="round" stroke-linejoin="round" opacity="1" filter="url(#b0)"/>
<path d="M442.7,92.0C441.9,93.3 438.8,97.8 437.9,99.9C437.0,102.0 436.3,103.0 437.1,104.7C437.9,106.4 440.2,108.6 442.7,110.3C445.2,112.0 448.8,113.6 452.2,115.0C455.6,116.4 461.5,118.2 463.3,118.8" fill="none" stroke="url(#gA2hb)" stroke-width="4.5" stroke-linecap="round" stroke-linejoin="round" opacity="1" filter="url(#b0)"/>
<path d="M452.8,79.3C453.1,80.3 453.8,83.2 454.5,85.6C455.2,88.0 455.8,90.7 456.9,93.6C458.0,96.5 459.6,100.2 460.9,103.1C462.2,106.0 463.4,108.6 464.8,111.0C466.2,113.4 468.0,114.7 469.6,117.3C471.2,119.9 472.9,123.6 474.3,126.8C475.7,130.0 477.1,132.6 477.8,136.3C478.6,140.1 478.6,145.5 478.8,149.3C479.0,153.1 478.8,157.6 478.8,159.3" fill="none" stroke="url(#gBhb)" stroke-width="6" stroke-linecap="round" stroke-linejoin="round" opacity="1" filter="url(#b1)"/>
<path d="M478.8,159.3C478.7,161.3 478.6,167.0 478.3,171.3C478.0,175.6 477.4,180.6 476.8,185.3C476.2,190.0 475.4,195.7 474.8,199.3C474.2,203.0 475.1,205.0 473.3,207.2C471.5,209.4 466.9,209.9 464.0,212.3C461.1,214.7 458.2,218.8 456.2,221.6C454.3,224.4 453.4,226.9 452.3,229.3C451.2,231.7 450.1,234.9 449.6,236.0" fill="none" stroke="url(#gL3hb)" stroke-width="6" stroke-linecap="round" stroke-linejoin="round" opacity="1" filter="url(#b1)"/>
<path d="M401.8,185.3C402.9,187.1 405.7,193.1 408.1,196.3C410.5,199.5 414.0,202.6 416.1,204.3C418.2,206.1 419.5,205.5 420.8,206.8C422.1,208.1 422.7,210.3 424.0,212.3C425.3,214.3 427.0,216.4 428.8,218.7C430.6,221.0 432.5,224.0 434.6,226.1C436.7,228.2 439.0,229.6 441.3,231.1C443.6,232.6 445.4,233.1 448.3,235.3C451.2,237.5 455.6,241.8 459.0,244.3C462.4,246.8 465.3,248.4 468.5,250.5C471.7,252.6 474.8,254.9 478.0,257.0C481.2,259.1 484.3,260.9 487.5,262.8C490.7,264.7 493.8,266.7 497.0,268.5C500.2,270.3 503.3,272.1 506.5,273.8C509.7,275.6 513.8,277.8 516.0,279.0C518.2,280.2 519.3,280.8 520.0,281.2" fill="none" stroke="url(#gL2hb)" stroke-width="3.9" stroke-linecap="round" stroke-linejoin="round" opacity="1" filter="url(#b0)"/>
<path d="M519.0,41.4C518.5,41.7 519.3,41.2 516.0,43.0C512.7,44.8 505.0,49.1 499.3,52.2C493.6,55.4 487.5,58.8 482.0,61.9C476.5,65.0 470.7,68.2 466.4,70.8C462.1,73.4 459.1,75.2 456.0,77.3C452.9,79.4 450.6,81.2 448.0,83.5C445.4,85.8 442.5,88.5 440.4,90.8C438.3,93.1 436.7,95.4 435.3,97.5C433.9,99.6 432.8,101.9 432.0,103.5C431.2,105.1 430.8,106.4 430.5,107.0" fill="none" stroke="url(#gL1b)" stroke-width="2.8" stroke-linecap="round" stroke-linejoin="round" opacity="1" filter="url(#b0)"/>
<path d="M430.0,107.0C431.3,107.7 434.7,109.4 437.9,111.0C441.1,112.6 445.0,114.8 449.0,116.5C453.0,118.2 458.0,120.1 461.7,121.3C465.4,122.5 466.9,123.0 471.2,123.7C475.5,124.5 479.5,125.3 487.3,125.8C495.1,126.3 513.1,126.6 518.3,126.8" fill="none" stroke="url(#gAb)" stroke-width="2.2" stroke-linecap="round" stroke-linejoin="round" opacity="1" filter="url(#b0)"/>
<path d="M442.7,92.0C441.9,93.3 438.8,97.8 437.9,99.9C437.0,102.0 436.3,103.0 437.1,104.7C437.9,106.4 440.2,108.6 442.7,110.3C445.2,112.0 448.8,113.6 452.2,115.0C455.6,116.4 461.5,118.2 463.3,118.8" fill="none" stroke="url(#gA2b)" stroke-width="1.8" stroke-linecap="round" stroke-linejoin="round" opacity="1" filter="url(#b0)"/>
<path d="M452.8,79.3C453.1,80.3 453.8,83.2 454.5,85.6C455.2,88.0 455.8,90.7 456.9,93.6C458.0,96.5 459.6,100.2 460.9,103.1C462.2,106.0 463.4,108.6 464.8,111.0C466.2,113.4 468.0,114.7 469.6,117.3C471.2,119.9 472.9,123.6 474.3,126.8C475.7,130.0 477.1,132.6 477.8,136.3C478.6,140.1 478.6,145.5 478.8,149.3C479.0,153.1 478.8,157.6 478.8,159.3" fill="none" stroke="url(#gBb)" stroke-width="3" stroke-linecap="round" stroke-linejoin="round" opacity="1" filter="url(#b0)"/>
<path d="M478.8,159.3C478.7,161.3 478.6,167.0 478.3,171.3C478.0,175.6 477.4,180.6 476.8,185.3C476.2,190.0 475.4,195.7 474.8,199.3C474.2,203.0 475.1,205.0 473.3,207.2C471.5,209.4 466.9,209.9 464.0,212.3C461.1,214.7 458.2,218.8 456.2,221.6C454.3,224.4 453.4,226.9 452.3,229.3C451.2,231.7 450.1,234.9 449.6,236.0" fill="none" stroke="url(#gL3b)" stroke-width="2.8" stroke-linecap="round" stroke-linejoin="round" opacity="1" filter="url(#b0)"/>
<path d="M401.8,185.3C402.9,187.1 405.7,193.1 408.1,196.3C410.5,199.5 414.0,202.6 416.1,204.3C418.2,206.1 419.5,205.5 420.8,206.8C422.1,208.1 422.7,210.3 424.0,212.3C425.3,214.3 427.0,216.4 428.8,218.7C430.6,221.0 432.5,224.0 434.6,226.1C436.7,228.2 439.0,229.6 441.3,231.1C443.6,232.6 445.4,233.1 448.3,235.3C451.2,237.5 455.6,241.8 459.0,244.3C462.4,246.8 465.3,248.4 468.5,250.5C471.7,252.6 474.8,254.9 478.0,257.0C481.2,259.1 484.3,260.9 487.5,262.8C490.7,264.7 493.8,266.7 497.0,268.5C500.2,270.3 503.3,272.1 506.5,273.8C509.7,275.6 513.8,277.8 516.0,279.0C518.2,280.2 519.3,280.8 520.0,281.2" fill="none" stroke="url(#gL2b)" stroke-width="2.1" stroke-linecap="round" stroke-linejoin="round" opacity="1" filter="url(#b0)"/>
<path d="M445.5,233.5C446.0,233.8 446.4,233.9 448.3,235.3C450.2,236.7 454.4,239.9 457.0,241.9C459.6,243.9 462.1,245.8 464.0,247.2C465.9,248.6 467.8,249.8 468.5,250.3" fill="none" stroke="#ff0000" stroke-width="3.4" stroke-linecap="round" stroke-linejoin="round" opacity="0.95" filter="url(#b0)"/>
</g>
<path d="M404.2,157.0C404.2,155.3 404.6,151.8 404.9,150.0C405.2,148.2 405.4,147.9 406.3,146.0C407.2,144.1 409.0,140.4 410.6,138.4C412.2,136.4 413.9,135.2 416.1,134.2C418.3,133.2 420.0,132.7 423.6,132.5C427.2,132.3 432.4,132.9 437.6,133.2C442.8,133.5 449.6,134.0 455.0,134.5C460.4,135.0 467.0,135.3 470.2,136.0C473.4,136.7 473.2,136.8 474.1,138.5C475.0,140.2 475.4,141.9 475.6,146.0C475.9,150.1 475.7,158.8 475.6,163.3C475.5,167.8 475.5,170.9 474.9,173.0C474.3,175.1 474.0,175.3 472.1,176.0C470.2,176.7 466.5,176.9 463.6,177.2C460.8,177.5 458.0,177.6 455.0,178.0C452.0,178.4 448.5,179.0 445.6,179.4C442.7,179.8 440.2,180.3 437.6,180.6C435.0,180.9 432.6,181.6 430.1,181.2C427.6,180.8 424.9,179.8 422.6,178.4C420.3,177.0 418.4,175.2 416.1,173.0C413.8,170.8 410.4,167.7 408.6,165.5C406.8,163.3 405.9,161.4 405.2,160.0C404.5,158.6 404.3,158.7 404.2,157.0Z" fill="#000" filter="url(#rough)"/>
<polygon points="518.3,206.8 513.3,208.3 510.3,211.3 505.3,212.3 502.3,215.3 498.3,216.8 495.3,219.8 495.8,221.8 499.3,222.3 501.3,224.8 504.3,225.8 506.3,228.8 509.3,230.3 510.8,232.8 514.3,233.3 518.3,234.8" fill="#000" filter="url(#rough)"/>
<polygon points="518.3,149.8 510.8,150.8 507.3,150.3 505.3,152.3 502.8,153.3 502.3,156.3 503.8,158.3 502.3,161.3 504.3,163.3 505.3,165.8 508.8,166.3 510.8,167.8 518.3,167.3" fill="#000" filter="url(#rough)"/>
<path d="M507.2,93.0h1v1h-1zM515.8,87.2h1v1.8h-1zM504.6,93.3h2.0v1h-2.0zM505.3,100.3h1v1.8h-1zM501.9,96.6h1v1.8h-1zM512.2,88.2h1.3v1h-1.3zM511.7,90.3h2.0v1h-2.0zM511.4,99.7h1.3v1h-1.3zM512.1,101.1h1.6v1h-1.6zM511.5,88.9h1v1.8h-1zM504.4,102.5h2.0v1.3h-2.0zM510.1,107.0h1.6v1.3h-1.6zM505.5,94.3h1.3v1h-1.3zM512.0,98.7h1.6v1.8h-1.6zM509.7,100.7h1v1h-1zM510.9,91.4h1.6v1h-1.6zM517.4,94.9h1v1.8h-1zM512.0,106.3h1.6v1.3h-1.6zM514.0,99.9h2.0v1h-2.0zM516.1,108.4h2.0v1.8h-2.0zM513.5,87.7h1.6v1.8h-1.6zM512.1,102.0h2.0v1.3h-2.0zM514.3,106.8h1.6v1h-1.6zM517.5,93.2h1v1.3h-1zM499.4,103.7h1.3v1.8h-1.3zM505.4,97.7h2.0v1h-2.0zM503.2,98.5h1.6v1h-1.6zM515.8,106.4h1.6v1.8h-1.6zM509.1,96.0h2.0v1h-2.0zM502.8,95.5h1.3v1.8h-1.3zM505.1,99.3h1.3v1.3h-1.3zM506.3,93.3h1.6v1.8h-1.6zM511.9,107.9h1v1.3h-1zM516.9,104.3h2.0v1.3h-2.0zM508.8,91.3h2.0v1h-2.0zM503.9,107.0h2.0v1h-2.0zM501.4,101.6h1v1h-1zM511.9,98.9h1.6v1.8h-1.6zM497.5,104.7h2.0v1h-2.0zM513.0,108.2h1.6v1.3h-1.6zM501.9,104.8h2.0v1.3h-2.0zM510.4,90.0h1v1.8h-1zM507.6,94.8h1.3v1.8h-1.3zM497.3,105.4h1.6v1h-1.6zM513.9,107.4h1.6v1.8h-1.6zM516.4,102.2h1.6v1.8h-1.6zM508.1,92.8h1.3v1.8h-1.3zM511.4,98.3h1.3v1.8h-1.3zM515.7,109.4h1.3v1h-1.3zM515.8,103.3h1.3v1h-1.3zM511.0,95.3h1v1h-1zM515.4,96.7h1.3v1.8h-1.3zM512.5,94.6h1.6v1.3h-1.6zM500.3,95.8h2.0v1h-2.0zM507.5,98.7h1v1.3h-1zM517.1,93.0h1v1.8h-1zM501.8,98.8h1.3v1.3h-1.3zM516.8,95.4h1.6v1h-1.6zM515.5,109.0h2.0v1.3h-2.0zM508.8,107.3h1.3v1h-1.3zM518.2,84.1h2.0v1.8h-2.0zM502.6,104.6h2.0v1.8h-2.0zM517.5,87.9h1.3v1h-1.3zM496.6,105.4h1v1.8h-1zM514.8,88.9h1.3v1h-1.3zM497.7,98.3h1.3v1.8h-1.3zM507.3,99.9h1.3v1h-1.3zM517.1,93.3h2.0v1.8h-2.0zM512.1,106.9h2.0v1.8h-2.0zM502.1,95.5h1v1.3h-1zM515.2,100.1h1.3v1h-1.3zM502.5,101.7h1v1.8h-1zM499.5,102.7h2.0v1h-2.0zM516.7,85.8h1.3v1.3h-1.3zM498.5,96.8h2.0v1.8h-2.0zM497.6,104.9h1v1.3h-1zM507.2,107.5h1.3v1.8h-1.3zM506.2,99.5h2.0v1.8h-2.0zM517.5,102.2h1.6v1.8h-1.6zM516.8,89.4h2.0v1h-2.0zM509.1,96.6h1.6v1h-1.6zM513.6,96.1h1.3v1.8h-1.3zM506.7,92.7h1.3v1.8h-1.3zM513.1,94.8h1.6v1h-1.6zM517.9,89.4h1v1.3h-1zM516.7,88.5h1.3v1h-1.3zM514.1,109.3h2.0v1.3h-2.0zM509.2,95.9h1v1.8h-1zM508.1,95.9h2.0v1.3h-2.0zM514.1,95.0h1.6v1.8h-1.6zM517.8,86.6h1.3v1h-1.3zM500.4,97.8h1.3v1.3h-1.3zM514.9,105.2h1.6v1.3h-1.6zM502.7,105.9h2.0v1.8h-2.0zM507.3,95.2h1.3v1.3h-1.3zM516.9,91.1h1v1.8h-1zM500.6,97.6h1.3v1h-1.3zM505.8,93.2h1v1.3h-1zM518.2,94.6h1.6v1.8h-1.6zM502.1,100.5h1.3v1h-1.3zM517.9,90.5h1.3v1h-1.3zM517.4,100.4h1.3v1.3h-1.3zM509.7,102.0h1.6v1.3h-1.6zM515.6,109.6h1v1h-1zM497.0,101.3h1.3v1.8h-1.3zM510.2,107.3h1v1.8h-1zM515.8,95.6h2.0v1.8h-2.0zM516.0,94.6h1.6v1.8h-1.6zM504.6,95.5h1.3v1.8h-1.3zM514.5,89.0h1.6v1h-1.6zM516.1,85.1h1.6v1.3h-1.6zM503.2,94.0h2.0v1.8h-2.0zM513.6,92.8h1.3v1.8h-1.3zM506.5,98.6h1.3v1.3h-1.3zM509.7,93.9h1.6v1.8h-1.6zM507.2,90.9h1.6v1h-1.6zM507.9,89.9h2.0v1h-2.0zM510.2,98.5h1.3v1h-1.3zM510.8,88.1h1.6v1h-1.6zM502.6,101.3h2.0v1h-2.0zM506.7,101.5h1v1.8h-1zM517.7,106.3h1.3v1.8h-1.3zM516.8,104.4h2.0v1.3h-2.0zM514.3,97.5h1.6v1.8h-1.6zM512.7,90.0h2.0v1.8h-2.0zM514.0,97.8h1v1.8h-1zM512.2,106.6h1.3v1h-1.3zM497.9,97.5h1.6v1h-1.6zM508.3,98.0h1v1.8h-1zM497.0,101.5h1.3v1.3h-1.3zM505.8,98.7h1v1.8h-1zM517.4,107.4h1v1.8h-1zM511.2,103.4h2.0v1.3h-2.0zM515.7,105.9h1.3v1.8h-1.3zM514.9,91.0h2.0v1.3h-2.0z" fill="#000" opacity="0.92"/>
<path d="M518.3,27.3L515.2,28.7L517.1,29.9ZM515.2,28.7L512.4,30.0L513.8,30.6ZM512.4,30.0L509.4,31.5L511.3,32.7ZM509.4,31.5L506.5,33.1L508.1,33.7ZM506.5,33.1L503.6,34.7L505.2,35.1ZM503.6,34.7L500.6,36.5L502.5,37.2ZM500.6,36.5L497.4,38.5L499.3,38.7ZM497.4,38.5L494.1,40.6L496.3,41.1ZM494.1,40.6L490.7,43.0L492.8,43.1ZM490.7,43.0L487.1,45.5L489.5,45.8ZM487.1,45.5L483.5,48.0L485.9,48.3ZM483.5,48.0L479.9,50.6L482.3,50.8ZM479.9,50.6L476.4,53.1L478.5,53.0ZM476.4,53.1L472.9,55.6L475.2,55.8ZM472.9,55.6L469.4,58.2L471.7,58.3ZM469.4,58.2L465.8,60.8L468.4,61.3Z" fill="#000"/>
</g>
<rect x="494.0" y="59.5" width="4.4" height="4.4" fill="#fff"/>
<text x="480.4" y="73.2" class="ml" textLength="34.0" lengthAdjust="spacingAndGlyphs">H1(250°)</text>
<rect x="471.7" y="74.4" width="4.4" height="4.4" fill="#fff"/>
<text x="457.4" y="88.0" class="ml" textLength="34.0" lengthAdjust="spacingAndGlyphs">H1(240°)</text>
<rect x="455.7" y="103.1" width="4.4" height="4.4" fill="#fff"/>
<text x="464.7" y="108.3" class="ml" textLength="33.5" lengthAdjust="spacingAndGlyphs">H1(210°)</text>
<rect x="472.7" y="116.2" width="4.4" height="4.4" fill="#fff"/>
<text x="457.4" y="129.4" class="ml" textLength="34.0" lengthAdjust="spacingAndGlyphs">H1(180°)</text>
<rect x="503.0" y="121.8" width="4.4" height="4.4" fill="#fff"/>
<text x="480.4" y="139.0" class="ml" textLength="34.0" lengthAdjust="spacingAndGlyphs">H1(150°)</text>
<rect x="507.4" y="193.5" width="4.4" height="4.4" fill="#fff"/>
<text x="480.4" y="188.5" class="ml" textLength="34.0" lengthAdjust="spacingAndGlyphs">H2(150°)</text>
<rect x="479.5" y="198.6" width="4.4" height="4.4" fill="#fff"/>
<text x="442.0" y="202.3" class="ml" textLength="33.6" lengthAdjust="spacingAndGlyphs">H2(180°)</text>
<rect x="465.4" y="209.3" width="4.4" height="4.4" fill="#fff"/>
<text x="474.9" y="214.5" class="ml" textLength="33.9" lengthAdjust="spacingAndGlyphs">H2(210°)</text>
<rect x="485.3" y="235.3" width="4.4" height="4.4" fill="#fff"/>
<text x="467.6" y="232.7" class="ml" textLength="34.0" lengthAdjust="spacingAndGlyphs">H2(240°)</text>
<rect x="506.8" y="248.5" width="4.4" height="4.4" fill="#fff"/>
<text x="472.0" y="252.3" class="ml" textLength="33.4" lengthAdjust="spacingAndGlyphs">H2(250°)</text>
<path d="M515.0,28V291.1H383.5" fill="none" stroke="#000" stroke-width="1.2"/>
<line x1="377.5" y1="35.6" x2="383.5" y2="35.6" stroke="#000" stroke-width="1.4"/>
<text transform="translate(374.2,40.5) scale(0.95,1)" text-anchor="end" class="tk">150</text>
<line x1="377.5" y1="76.9" x2="383.5" y2="76.9" stroke="#000" stroke-width="1.4"/>
<text transform="translate(374.2,81.8) scale(0.95,1)" text-anchor="end" class="tk">100</text>
<line x1="377.5" y1="118.2" x2="383.5" y2="118.2" stroke="#000" stroke-width="1.4"/>
<text transform="translate(374.2,123.1) scale(0.95,1)" text-anchor="end" class="tk">50</text>
<line x1="377.5" y1="159.5" x2="383.5" y2="159.5" stroke="#000" stroke-width="1.4"/>
<text transform="translate(374.2,164.4) scale(0.95,1)" text-anchor="end" class="tk">0</text>
<line x1="377.5" y1="200.8" x2="383.5" y2="200.8" stroke="#000" stroke-width="1.4"/>
<text transform="translate(374.2,205.7) scale(0.95,1)" text-anchor="end" class="tk">50</text>
<rect x="351.5" y="200.5" width="5.4" height="2.1" fill="#000"/>
<line x1="377.5" y1="242.1" x2="383.5" y2="242.1" stroke="#000" stroke-width="1.4"/>
<text transform="translate(374.2,247.0) scale(0.95,1)" text-anchor="end" class="tk">100</text>
<rect x="343.1" y="241.8" width="5.4" height="2.1" fill="#000"/>
<line x1="377.5" y1="283.4" x2="383.5" y2="283.4" stroke="#000" stroke-width="1.4"/>
<text transform="translate(374.2,288.3) scale(0.95,1)" text-anchor="end" class="tk">150</text>
<rect x="343.1" y="283.1" width="5.4" height="2.1" fill="#000"/>
<line x1="380.5" y1="56.2" x2="383.5" y2="56.2" stroke="#000" stroke-width="1.2"/>
<line x1="380.5" y1="97.6" x2="383.5" y2="97.6" stroke="#000" stroke-width="1.2"/>
<line x1="380.5" y1="138.8" x2="383.5" y2="138.8" stroke="#000" stroke-width="1.2"/>
<line x1="380.5" y1="180.2" x2="383.5" y2="180.2" stroke="#000" stroke-width="1.2"/>
<line x1="380.5" y1="221.4" x2="383.5" y2="221.4" stroke="#000" stroke-width="1.2"/>
<line x1="380.5" y1="262.8" x2="383.5" y2="262.8" stroke="#000" stroke-width="1.2"/>
<line x1="399.4" y1="291" x2="399.4" y2="297.4" stroke="#000" stroke-width="1.4"/>
<rect x="388.0" y="307.8" width="5.4" height="2.1" fill="#000"/>
<text transform="translate(394.0,313) scale(0.95,1)" class="tk">60</text>
<line x1="424.2" y1="291" x2="424.2" y2="297.4" stroke="#000" stroke-width="1.4"/>
<rect x="412.8" y="307.8" width="5.4" height="2.1" fill="#000"/>
<text transform="translate(418.8,313) scale(0.95,1)" class="tk">30</text>
<line x1="449.0" y1="291" x2="449.0" y2="297.4" stroke="#000" stroke-width="1.4"/>
<text transform="translate(444.8,313) scale(0.95,1)" class="tk">0</text>
<line x1="473.8" y1="291" x2="473.8" y2="297.4" stroke="#000" stroke-width="1.4"/>
<text transform="translate(465.4,313) scale(0.95,1)" class="tk">30</text>
<line x1="498.6" y1="291" x2="498.6" y2="297.4" stroke="#000" stroke-width="1.4"/>
<text transform="translate(490.2,313) scale(0.95,1)" class="tk">60</text>
<line x1="387.0" y1="291" x2="387.0" y2="294.4" stroke="#000" stroke-width="1.2"/>
<line x1="411.8" y1="291" x2="411.8" y2="294.4" stroke="#000" stroke-width="1.2"/>
<line x1="436.6" y1="291" x2="436.6" y2="294.4" stroke="#000" stroke-width="1.2"/>
<line x1="461.4" y1="291" x2="461.4" y2="294.4" stroke="#000" stroke-width="1.2"/>
<line x1="486.2" y1="291" x2="486.2" y2="294.4" stroke="#000" stroke-width="1.2"/>
<line x1="511.0" y1="291" x2="511.0" y2="294.4" stroke="#000" stroke-width="1.2"/>
<text x="361.5" y="338.5" class="ax" textLength="176" lengthAdjust="spacingAndGlyphs">Horizontal direction (cm)</text>
<text transform="translate(332.5,237.5) rotate(-90)" class="ax" textLength="158" lengthAdjust="spacingAndGlyphs">Vertical direction (cm)</text>
<text x="475.0" y="18" class="ti">Lill <tspan font-size="13.5" font-weight="700">(</tspan>Phs*cm<tspan font-size="10.5" dy="-7">-2</tspan><tspan dy="7">*s</tspan><tspan font-size="10.5" dy="-7">-1</tspan><tspan dy="7" font-size="13.5" font-weight="700">)</tspan></text>
<rect x="524.4000000000001" y="28" width="35.2" height="263.4" fill="url(#cb)"/>
<text x="564.4000000000001" y="33.2" class="cbt" textLength="51.2" lengthAdjust="spacingAndGlyphs">2.0E+15</text>
<line x1="554.4000000000001" y1="79.6" x2="559.6000000000001" y2="79.6" stroke="#000" stroke-width="1.2"/>
<text x="564.4000000000001" y="84.8" class="cbt" textLength="51.2" lengthAdjust="spacingAndGlyphs">1.6E+15</text>
<line x1="554.4000000000001" y1="131.2" x2="559.6000000000001" y2="131.2" stroke="#000" stroke-width="1.2"/>
<text x="564.4000000000001" y="136.4" class="cbt" textLength="51.2" lengthAdjust="spacingAndGlyphs">1.2E+15</text>
<line x1="554.4000000000001" y1="182.8" x2="559.6000000000001" y2="182.8" stroke="#000" stroke-width="1.2"/>
<text x="564.4000000000001" y="188.0" class="cbt" textLength="51.2" lengthAdjust="spacingAndGlyphs">8.0E+14</text>
<line x1="554.4000000000001" y1="234.4" x2="559.6000000000001" y2="234.4" stroke="#000" stroke-width="1.2"/>
<text x="564.4000000000001" y="239.6" class="cbt" textLength="51.2" lengthAdjust="spacingAndGlyphs">4.0E+14</text>
<text x="564.4000000000001" y="291.2" class="cbt">0.0</text>
<text x="313.5" y="340" class="pl">(b)</text>
</g>
</svg>
</body></html>
